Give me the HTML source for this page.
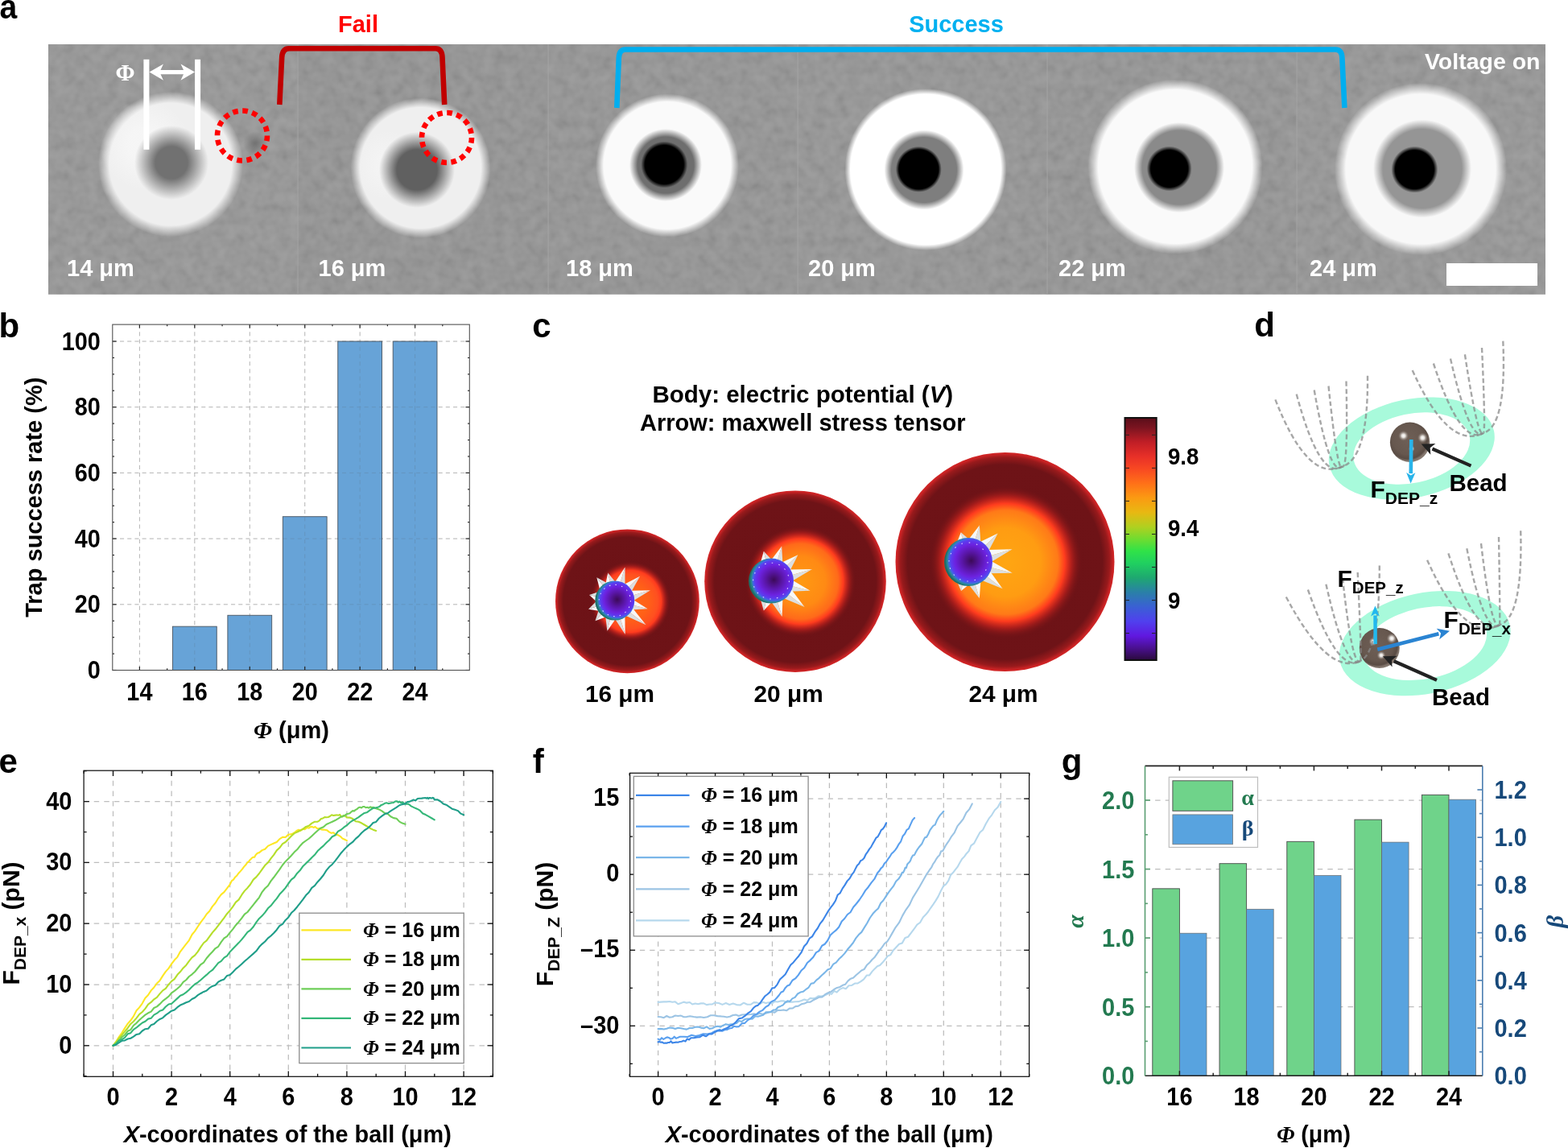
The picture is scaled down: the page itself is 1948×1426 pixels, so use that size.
<!DOCTYPE html>
<html><head><meta charset="utf-8"><title>Figure</title><style>
html,body{margin:0;padding:0;background:#fff;overflow:hidden}
svg{display:block}
</style></head><body>
<svg width="1948" height="1426" viewBox="0 0 1948 1426">
<defs>
<filter id="nz" x="60" y="55" width="1860" height="310.5" filterUnits="userSpaceOnUse"><feTurbulence type="fractalNoise" baseFrequency="0.075" numOctaves="2" seed="7"/><feColorMatrix type="matrix" values="1 0 0 0 0  1 0 0 0 0  1 0 0 0 0  0 0 0 0 0.14"/></filter>
<radialGradient id="rg1" gradientUnits="userSpaceOnUse" cx="212" cy="204" r="90"><stop offset="0" stop-color="#efefef" stop-opacity="1.0"/><stop offset="0.8444" stop-color="#efefef" stop-opacity="1.0"/><stop offset="0.9222" stop-color="#efefef" stop-opacity="0.5"/><stop offset="1" stop-color="#efefef" stop-opacity="0"/></radialGradient>
<radialGradient id="rg2" gradientUnits="userSpaceOnUse" cx="180" cy="180" r="56"><stop offset="0" stop-color="#fafafa" stop-opacity="0.6"/><stop offset="0.3571" stop-color="#fafafa" stop-opacity="0.6"/><stop offset="0.6786" stop-color="#fafafa" stop-opacity="0.3"/><stop offset="1" stop-color="#fafafa" stop-opacity="0"/></radialGradient>
<radialGradient id="rg3" gradientUnits="userSpaceOnUse" cx="213" cy="202" r="46"><stop offset="0" stop-color="#717171" stop-opacity="1.0"/><stop offset="0.4348" stop-color="#717171" stop-opacity="1.0"/><stop offset="0.7174" stop-color="#717171" stop-opacity="0.5"/><stop offset="1" stop-color="#717171" stop-opacity="0"/></radialGradient>
<radialGradient id="rg4" gradientUnits="userSpaceOnUse" cx="522.5" cy="208.5" r="87"><stop offset="0" stop-color="#efefef" stop-opacity="1.0"/><stop offset="0.8621" stop-color="#efefef" stop-opacity="1.0"/><stop offset="0.9310" stop-color="#efefef" stop-opacity="0.5"/><stop offset="1" stop-color="#efefef" stop-opacity="0"/></radialGradient>
<radialGradient id="rg5" gradientUnits="userSpaceOnUse" cx="482" cy="205" r="43"><stop offset="0" stop-color="#f8f8f8" stop-opacity="0.5"/><stop offset="0.3023" stop-color="#f8f8f8" stop-opacity="0.5"/><stop offset="0.6512" stop-color="#f8f8f8" stop-opacity="0.25"/><stop offset="1" stop-color="#f8f8f8" stop-opacity="0"/></radialGradient>
<radialGradient id="rg6" gradientUnits="userSpaceOnUse" cx="518" cy="211" r="47"><stop offset="0" stop-color="#606060" stop-opacity="1.0"/><stop offset="0.5319" stop-color="#606060" stop-opacity="1.0"/><stop offset="0.7660" stop-color="#606060" stop-opacity="0.5"/><stop offset="1" stop-color="#606060" stop-opacity="0"/></radialGradient>
<radialGradient id="rg7" gradientUnits="userSpaceOnUse" cx="829" cy="205.5" r="89"><stop offset="0" stop-color="#fafafa" stop-opacity="1.0"/><stop offset="0.8876" stop-color="#fafafa" stop-opacity="1.0"/><stop offset="0.9438" stop-color="#fafafa" stop-opacity="0.5"/><stop offset="1" stop-color="#fafafa" stop-opacity="0"/></radialGradient>
<radialGradient id="rg8" gradientUnits="userSpaceOnUse" cx="827" cy="205" r="45"><stop offset="0" stop-color="#6e6e6e" stop-opacity="1.0"/><stop offset="0.7778" stop-color="#6e6e6e" stop-opacity="1.0"/><stop offset="0.8889" stop-color="#6e6e6e" stop-opacity="0.5"/><stop offset="1" stop-color="#6e6e6e" stop-opacity="0"/></radialGradient>
<radialGradient id="rg9" gradientUnits="userSpaceOnUse" cx="825.3" cy="204.5" r="29"><stop offset="0" stop-color="#000000" stop-opacity="1.0"/><stop offset="0.8276" stop-color="#000000" stop-opacity="1.0"/><stop offset="0.9138" stop-color="#000000" stop-opacity="0.5"/><stop offset="1" stop-color="#000000" stop-opacity="0"/></radialGradient>
<radialGradient id="rg10" gradientUnits="userSpaceOnUse" cx="1150" cy="210.5" r="100.5"><stop offset="0" stop-color="#ffffff" stop-opacity="1.0"/><stop offset="0.9303" stop-color="#ffffff" stop-opacity="1.0"/><stop offset="0.9652" stop-color="#ffffff" stop-opacity="0.5"/><stop offset="1" stop-color="#ffffff" stop-opacity="0"/></radialGradient>
<radialGradient id="rg11" gradientUnits="userSpaceOnUse" cx="1148" cy="211" r="49.5"><stop offset="0" stop-color="#7e7e7e" stop-opacity="1.0"/><stop offset="0.8182" stop-color="#7e7e7e" stop-opacity="1.0"/><stop offset="0.9091" stop-color="#7e7e7e" stop-opacity="0.5"/><stop offset="1" stop-color="#7e7e7e" stop-opacity="0"/></radialGradient>
<radialGradient id="rg12" gradientUnits="userSpaceOnUse" cx="1141.3" cy="210.3" r="28.5"><stop offset="0" stop-color="#000000" stop-opacity="1.0"/><stop offset="0.8596" stop-color="#000000" stop-opacity="1.0"/><stop offset="0.9298" stop-color="#000000" stop-opacity="0.5"/><stop offset="1" stop-color="#000000" stop-opacity="0"/></radialGradient>
<radialGradient id="rg13" gradientUnits="userSpaceOnUse" cx="1460" cy="207" r="108.5"><stop offset="0" stop-color="#fafafa" stop-opacity="1.0"/><stop offset="0.8802" stop-color="#fafafa" stop-opacity="1.0"/><stop offset="0.9401" stop-color="#fafafa" stop-opacity="0.5"/><stop offset="1" stop-color="#fafafa" stop-opacity="0"/></radialGradient>
<radialGradient id="rg14" gradientUnits="userSpaceOnUse" cx="1465" cy="208" r="56"><stop offset="0" stop-color="#8a8a8a" stop-opacity="1.0"/><stop offset="0.8214" stop-color="#8a8a8a" stop-opacity="1.0"/><stop offset="0.9107" stop-color="#8a8a8a" stop-opacity="0.5"/><stop offset="1" stop-color="#8a8a8a" stop-opacity="0"/></radialGradient>
<radialGradient id="rg15" gradientUnits="userSpaceOnUse" cx="1452.7" cy="209.5" r="28"><stop offset="0" stop-color="#000000" stop-opacity="1.0"/><stop offset="0.8214" stop-color="#000000" stop-opacity="1.0"/><stop offset="0.9107" stop-color="#000000" stop-opacity="0.5"/><stop offset="1" stop-color="#000000" stop-opacity="0"/></radialGradient>
<radialGradient id="rg16" gradientUnits="userSpaceOnUse" cx="1765" cy="210" r="107"><stop offset="0" stop-color="#f8f8f8" stop-opacity="1.0"/><stop offset="0.8692" stop-color="#f8f8f8" stop-opacity="1.0"/><stop offset="0.9346" stop-color="#f8f8f8" stop-opacity="0.5"/><stop offset="1" stop-color="#f8f8f8" stop-opacity="0"/></radialGradient>
<radialGradient id="rg17" gradientUnits="userSpaceOnUse" cx="1767" cy="209.5" r="61"><stop offset="0" stop-color="#959595" stop-opacity="1.0"/><stop offset="0.8033" stop-color="#959595" stop-opacity="1.0"/><stop offset="0.9016" stop-color="#959595" stop-opacity="0.5"/><stop offset="1" stop-color="#959595" stop-opacity="0"/></radialGradient>
<radialGradient id="rg18" gradientUnits="userSpaceOnUse" cx="1757.4" cy="210.6" r="29"><stop offset="0" stop-color="#000000" stop-opacity="1.0"/><stop offset="0.8276" stop-color="#000000" stop-opacity="1.0"/><stop offset="0.9138" stop-color="#000000" stop-opacity="0.5"/><stop offset="1" stop-color="#000000" stop-opacity="0"/></radialGradient>
<radialGradient id="rg19" gradientUnits="userSpaceOnUse" cx="317" cy="178" r="15"><stop offset="0" stop-color="#6a6a6a" stop-opacity="0.8"/><stop offset="0.0000" stop-color="#6a6a6a" stop-opacity="0.8"/><stop offset="0.5000" stop-color="#6a6a6a" stop-opacity="0.4"/><stop offset="1" stop-color="#6a6a6a" stop-opacity="0"/></radialGradient>
<radialGradient id="cg20" gradientUnits="userSpaceOnUse" cx="779.4" cy="746.8" r="89.4"><stop offset="0" stop-color="#6c1216"/><stop offset="0.89" stop-color="#6e1317"/><stop offset="0.955" stop-color="#981a1c"/><stop offset="0.985" stop-color="#c82224"/><stop offset="1" stop-color="#d42626"/></radialGradient>
<radialGradient id="cc21" gradientUnits="userSpaceOnUse" cx="783" cy="747" r="50.05"><stop offset="0" stop-color="#ff6a16"/><stop offset="0.45" stop-color="#ff6018"/><stop offset="0.68" stop-color="#ff5020"/><stop offset="0.77" stop-color="#ff3c1e"/><stop offset="0.86" stop-color="#b8201c" stop-opacity="0.85"/><stop offset="1" stop-color="#6e1317" stop-opacity="0"/></radialGradient>
<radialGradient id="sp22" gradientUnits="userSpaceOnUse" cx="766.74" cy="744.77" r="26.46"><stop offset="0" stop-color="#3c0a58"/><stop offset="0.35" stop-color="#5a16a8"/><stop offset="0.62" stop-color="#6c22e0"/><stop offset="0.78" stop-color="#5c3cf0"/><stop offset="0.86" stop-color="#4068e4"/><stop offset="0.92" stop-color="#2a8a9a"/><stop offset="1" stop-color="#1d6c64"/></radialGradient>
<radialGradient id="cg23" gradientUnits="userSpaceOnUse" cx="988" cy="722.2" r="112.8"><stop offset="0" stop-color="#6c1216"/><stop offset="0.89" stop-color="#6e1317"/><stop offset="0.955" stop-color="#981a1c"/><stop offset="0.985" stop-color="#c82224"/><stop offset="1" stop-color="#d42626"/></radialGradient>
<radialGradient id="cc24" gradientUnits="userSpaceOnUse" cx="994.5" cy="722.2" r="68.9"><stop offset="0" stop-color="#ff9a12"/><stop offset="0.45" stop-color="#ff8a14"/><stop offset="0.68" stop-color="#ff6a1a"/><stop offset="0.77" stop-color="#ff3c1e"/><stop offset="0.86" stop-color="#b8201c" stop-opacity="0.85"/><stop offset="1" stop-color="#6e1317" stop-opacity="0"/></radialGradient>
<radialGradient id="sp25" gradientUnits="userSpaceOnUse" cx="961.36" cy="720.2" r="30.24"><stop offset="0" stop-color="#3c0a58"/><stop offset="0.35" stop-color="#5a16a8"/><stop offset="0.62" stop-color="#6c22e0"/><stop offset="0.78" stop-color="#5c3cf0"/><stop offset="0.86" stop-color="#4068e4"/><stop offset="0.92" stop-color="#2a8a9a"/><stop offset="1" stop-color="#1d6c64"/></radialGradient>
<radialGradient id="cg26" gradientUnits="userSpaceOnUse" cx="1248.5" cy="698" r="136"><stop offset="0" stop-color="#6c1216"/><stop offset="0.89" stop-color="#6e1317"/><stop offset="0.955" stop-color="#981a1c"/><stop offset="0.985" stop-color="#c82224"/><stop offset="1" stop-color="#d42626"/></radialGradient>
<radialGradient id="cc27" gradientUnits="userSpaceOnUse" cx="1249.8" cy="698.5" r="94.9"><stop offset="0" stop-color="#ffa612"/><stop offset="0.45" stop-color="#ff9c12"/><stop offset="0.68" stop-color="#ff7a18"/><stop offset="0.77" stop-color="#ff3c1e"/><stop offset="0.86" stop-color="#b8201c" stop-opacity="0.85"/><stop offset="1" stop-color="#6e1317" stop-opacity="0"/></radialGradient>
<radialGradient id="sp28" gradientUnits="userSpaceOnUse" cx="1206.6" cy="696.5" r="32.4"><stop offset="0" stop-color="#3c0a58"/><stop offset="0.35" stop-color="#5a16a8"/><stop offset="0.62" stop-color="#6c22e0"/><stop offset="0.78" stop-color="#5c3cf0"/><stop offset="0.86" stop-color="#4068e4"/><stop offset="0.92" stop-color="#2a8a9a"/><stop offset="1" stop-color="#1d6c64"/></radialGradient>
<linearGradient id="cb29" x1="0" y1="0" x2="0" y2="1"><stop offset="0" stop-color="#5a0e1a"/><stop offset="0.04" stop-color="#7a1420"/><stop offset="0.1" stop-color="#c01e26"/><stop offset="0.16" stop-color="#e83028"/><stop offset="0.21" stop-color="#f84822"/><stop offset="0.27" stop-color="#ff7018"/><stop offset="0.33" stop-color="#fb9a12"/><stop offset="0.39" stop-color="#e8b812"/><stop offset="0.45" stop-color="#b0d020"/><stop offset="0.5" stop-color="#70dc30"/><stop offset="0.55" stop-color="#30e248"/><stop offset="0.6" stop-color="#20d060"/><stop offset="0.66" stop-color="#1ea870"/><stop offset="0.72" stop-color="#2a80a8"/><stop offset="0.78" stop-color="#3a60d4"/><stop offset="0.84" stop-color="#5040ee"/><stop offset="0.9" stop-color="#6018e0"/><stop offset="0.95" stop-color="#4a1090"/><stop offset="1" stop-color="#2a0a3c"/></linearGradient>
<radialGradient id="bd30" gradientUnits="userSpaceOnUse" cx="1749.13" cy="545.5" r="27.17"><stop offset="0" stop-color="#6e5f56"/><stop offset="0.7" stop-color="#67584f"/><stop offset="0.9" stop-color="#5a4c44"/><stop offset="1" stop-color="#85786f"/></radialGradient>
<radialGradient id="hl31" gradientUnits="userSpaceOnUse" cx="1743.6" cy="541.3" r="6.5"><stop offset="0" stop-color="#ffffff"/><stop offset="0.35" stop-color="#f0ece8" stop-opacity="0.9"/><stop offset="1" stop-color="#8a7d75" stop-opacity="0"/></radialGradient>
<radialGradient id="hl32" gradientUnits="userSpaceOnUse" cx="1767.4" cy="543.8" r="6.5"><stop offset="0" stop-color="#ffffff"/><stop offset="0.35" stop-color="#f0ece8" stop-opacity="0.9"/><stop offset="1" stop-color="#8a7d75" stop-opacity="0"/></radialGradient>
<radialGradient id="hl33" gradientUnits="userSpaceOnUse" cx="1753.8" cy="557.4" r="4"><stop offset="0" stop-color="#ffffff"/><stop offset="0.35" stop-color="#f0ece8" stop-opacity="0.9"/><stop offset="1" stop-color="#8a7d75" stop-opacity="0"/></radialGradient>
<radialGradient id="bd34" gradientUnits="userSpaceOnUse" cx="1711.3" cy="801.25" r="27.5"><stop offset="0" stop-color="#6e5f56"/><stop offset="0.7" stop-color="#67584f"/><stop offset="0.9" stop-color="#5a4c44"/><stop offset="1" stop-color="#85786f"/></radialGradient>
<radialGradient id="hl35" gradientUnits="userSpaceOnUse" cx="1706" cy="797" r="5.5"><stop offset="0" stop-color="#ffffff"/><stop offset="0.35" stop-color="#f0ece8" stop-opacity="0.9"/><stop offset="1" stop-color="#8a7d75" stop-opacity="0"/></radialGradient>
<radialGradient id="hl36" gradientUnits="userSpaceOnUse" cx="1729" cy="793" r="6.5"><stop offset="0" stop-color="#ffffff"/><stop offset="0.35" stop-color="#f0ece8" stop-opacity="0.9"/><stop offset="1" stop-color="#8a7d75" stop-opacity="0"/></radialGradient>
<radialGradient id="hl37" gradientUnits="userSpaceOnUse" cx="1716" cy="814" r="5.5"><stop offset="0" stop-color="#ffffff"/><stop offset="0.35" stop-color="#f0ece8" stop-opacity="0.9"/><stop offset="1" stop-color="#8a7d75" stop-opacity="0"/></radialGradient>
</defs>
<rect width="1948" height="1426" fill="#fff"/>
<rect x="60" y="55" width="1860" height="310.5" fill="#919191"/>
<rect x="60" y="55" width="310" height="310.5" fill="#939393"/>
<rect x="370" y="55" width="311" height="310.5" fill="#909090"/>
<rect x="681" y="55" width="310" height="310.5" fill="#919191"/>
<rect x="991" y="55" width="310" height="310.5" fill="#929292"/>
<rect x="1301" y="55" width="310" height="310.5" fill="#919191"/>
<rect x="1611" y="55" width="309" height="310.5" fill="#939393"/>
<rect x="60" y="55" width="1860" height="310.5" filter="url(#nz)"/>
<rect x="369.5" y="55" width="1.2" height="310.5" fill="#a4a4a4" opacity="0.8"/>
<rect x="680.5" y="55" width="1.2" height="310.5" fill="#a4a4a4" opacity="0.8"/>
<rect x="990.5" y="55" width="1.2" height="310.5" fill="#a4a4a4" opacity="0.8"/>
<rect x="1300.5" y="55" width="1.2" height="310.5" fill="#a4a4a4" opacity="0.8"/>
<rect x="1610.5" y="55" width="1.2" height="310.5" fill="#a4a4a4" opacity="0.8"/>
<circle cx="212" cy="204" r="90" fill="url(#rg1)"/>
<circle cx="180" cy="180" r="56" fill="url(#rg2)"/>
<circle cx="213" cy="202" r="46" fill="url(#rg3)"/>
<circle cx="522.5" cy="208.5" r="87" fill="url(#rg4)"/>
<circle cx="482" cy="205" r="43" fill="url(#rg5)"/>
<circle cx="518" cy="211" r="47" fill="url(#rg6)"/>
<circle cx="829" cy="205.5" r="89" fill="url(#rg7)"/>
<circle cx="827" cy="205" r="45" fill="url(#rg8)"/>
<circle cx="825.3" cy="204.5" r="29" fill="url(#rg9)"/>
<circle cx="1150" cy="210.5" r="100.5" fill="url(#rg10)"/>
<circle cx="1148" cy="211" r="49.5" fill="url(#rg11)"/>
<circle cx="1141.3" cy="210.3" r="28.5" fill="url(#rg12)"/>
<circle cx="1460" cy="207" r="108.5" fill="url(#rg13)"/>
<circle cx="1465" cy="208" r="56" fill="url(#rg14)"/>
<circle cx="1452.7" cy="209.5" r="28" fill="url(#rg15)"/>
<circle cx="1765" cy="210" r="107" fill="url(#rg16)"/>
<circle cx="1767" cy="209.5" r="61" fill="url(#rg17)"/>
<circle cx="1757.4" cy="210.6" r="29" fill="url(#rg18)"/>
<circle cx="317" cy="178" r="15" fill="url(#rg19)"/>
<rect x="178.4" y="73.8" width="7" height="112" fill="#fff"/>
<rect x="242.1" y="73.8" width="7" height="112" fill="#fff"/>
<path d="M185.5 89.6 L203 79.4 L199.5 87 L228 87 L224.5 79.4 L242 89.6 L224.5 99.8 L228 92.2 L199.5 92.2 L203 99.8 Z" fill="#fff"/>
<text transform="translate(155.4 99.5)" font-size="29" text-anchor="middle" fill="#fff" font-weight="bold" font-family='"Liberation Serif", "Times New Roman", serif' font-style="normal" >Φ</text>
<circle cx="301" cy="168.5" r="31" fill="none" stroke="#ff0000" stroke-width="6.6" stroke-dasharray="6.696 5.478"/>
<circle cx="555" cy="171" r="31" fill="none" stroke="#ff0000" stroke-width="6.6" stroke-dasharray="6.696 5.478"/>
<path d="M347.3 130 L350.2 71 Q351 60.3 359 60.3 L541 60.3 Q549 60.3 549.5 71 L552.2 130" fill="none" stroke="#c00000" stroke-width="6.6"/>
<path d="M766.3 134 L768.8 72 Q769.3 61.5 777 61.5 L1659 61.5 Q1667 61.5 1667.4 72 L1670.4 134" fill="none" stroke="#00aeef" stroke-width="6.6"/>
<text transform="translate(445 40.2)" font-size="29" text-anchor="middle" fill="#ff0000" font-weight="bold" font-family='"Liberation Sans", Arial, sans-serif' font-style="normal" >Fail</text>
<text transform="translate(1188 40.2)" font-size="29" text-anchor="middle" fill="#00b0f0" font-weight="bold" font-family='"Liberation Sans", Arial, sans-serif' font-style="normal" >Success</text>
<text transform="translate(1913.5 86.2)" font-size="28.5" text-anchor="end" fill="#fff" font-weight="bold" font-family='"Liberation Sans", Arial, sans-serif' font-style="normal" >Voltage on</text>
<text transform="translate(83 343.1)" font-size="29" text-anchor="start" fill="#fff" font-weight="bold" font-family='"Liberation Sans", Arial, sans-serif' font-style="normal" >14 μm</text>
<text transform="translate(395.5 343.1)" font-size="29" text-anchor="start" fill="#fff" font-weight="bold" font-family='"Liberation Sans", Arial, sans-serif' font-style="normal" >16 μm</text>
<text transform="translate(703 343.1)" font-size="29" text-anchor="start" fill="#fff" font-weight="bold" font-family='"Liberation Sans", Arial, sans-serif' font-style="normal" >18 μm</text>
<text transform="translate(1004 343.1)" font-size="29" text-anchor="start" fill="#fff" font-weight="bold" font-family='"Liberation Sans", Arial, sans-serif' font-style="normal" >20 μm</text>
<text transform="translate(1315 343.1)" font-size="29" text-anchor="start" fill="#fff" font-weight="bold" font-family='"Liberation Sans", Arial, sans-serif' font-style="normal" >22 μm</text>
<text transform="translate(1627 343.1)" font-size="29" text-anchor="start" fill="#fff" font-weight="bold" font-family='"Liberation Sans", Arial, sans-serif' font-style="normal" >24 μm</text>
<rect x="1797" y="327" width="113" height="28" fill="#fff"/>
<rect x="139.8" y="403.1" width="443.49999999999994" height="429.4" fill="#fff"/>
<line x1="173.4" y1="403.1" x2="173.4" y2="832.5" stroke="#cdcdcd" stroke-width="1.0" stroke-dasharray="5.1 4.1"/>
<line x1="241.84" y1="403.1" x2="241.84" y2="832.5" stroke="#cdcdcd" stroke-width="1.0" stroke-dasharray="5.1 4.1"/>
<line x1="310.28" y1="403.1" x2="310.28" y2="832.5" stroke="#cdcdcd" stroke-width="1.0" stroke-dasharray="5.1 4.1"/>
<line x1="378.72" y1="403.1" x2="378.72" y2="832.5" stroke="#cdcdcd" stroke-width="1.0" stroke-dasharray="5.1 4.1"/>
<line x1="447.16" y1="403.1" x2="447.16" y2="832.5" stroke="#cdcdcd" stroke-width="1.0" stroke-dasharray="5.1 4.1"/>
<line x1="515.6" y1="403.1" x2="515.6" y2="832.5" stroke="#cdcdcd" stroke-width="1.0" stroke-dasharray="5.1 4.1"/>
<line x1="139.8" y1="750.8" x2="583.3" y2="750.8" stroke="#cdcdcd" stroke-width="1.0" stroke-dasharray="5.1 4.1"/>
<line x1="139.8" y1="669.1" x2="583.3" y2="669.1" stroke="#cdcdcd" stroke-width="1.0" stroke-dasharray="5.1 4.1"/>
<line x1="139.8" y1="587.4" x2="583.3" y2="587.4" stroke="#cdcdcd" stroke-width="1.0" stroke-dasharray="5.1 4.1"/>
<line x1="139.8" y1="505.7" x2="583.3" y2="505.7" stroke="#cdcdcd" stroke-width="1.0" stroke-dasharray="5.1 4.1"/>
<line x1="139.8" y1="424" x2="583.3" y2="424" stroke="#cdcdcd" stroke-width="1.0" stroke-dasharray="5.1 4.1"/>
<rect x="214.44" y="778.17" width="54.8" height="54.33" fill="#67a3d7" stroke="#4a5560" stroke-width="0.9"/>
<rect x="282.88" y="764.28" width="54.8" height="68.22" fill="#67a3d7" stroke="#4a5560" stroke-width="0.9"/>
<rect x="351.32" y="641.73" width="54.8" height="190.77" fill="#67a3d7" stroke="#4a5560" stroke-width="0.9"/>
<rect x="419.76" y="424" width="54.8" height="408.5" fill="#67a3d7" stroke="#4a5560" stroke-width="0.9"/>
<rect x="488.2" y="424" width="54.8" height="408.5" fill="#67a3d7" stroke="#4a5560" stroke-width="0.9"/>
<g opacity="0.18">
<line x1="173.4" y1="403.1" x2="173.4" y2="832.5" stroke="#555" stroke-width="1.0" stroke-dasharray="5.1 4.1"/>
<line x1="241.84" y1="403.1" x2="241.84" y2="832.5" stroke="#555" stroke-width="1.0" stroke-dasharray="5.1 4.1"/>
<line x1="310.28" y1="403.1" x2="310.28" y2="832.5" stroke="#555" stroke-width="1.0" stroke-dasharray="5.1 4.1"/>
<line x1="378.72" y1="403.1" x2="378.72" y2="832.5" stroke="#555" stroke-width="1.0" stroke-dasharray="5.1 4.1"/>
<line x1="447.16" y1="403.1" x2="447.16" y2="832.5" stroke="#555" stroke-width="1.0" stroke-dasharray="5.1 4.1"/>
<line x1="515.6" y1="403.1" x2="515.6" y2="832.5" stroke="#555" stroke-width="1.0" stroke-dasharray="5.1 4.1"/>
<line x1="139.8" y1="750.8" x2="583.3" y2="750.8" stroke="#555" stroke-width="1.0" stroke-dasharray="5.1 4.1"/>
<line x1="139.8" y1="669.1" x2="583.3" y2="669.1" stroke="#555" stroke-width="1.0" stroke-dasharray="5.1 4.1"/>
<line x1="139.8" y1="587.4" x2="583.3" y2="587.4" stroke="#555" stroke-width="1.0" stroke-dasharray="5.1 4.1"/>
<line x1="139.8" y1="505.7" x2="583.3" y2="505.7" stroke="#555" stroke-width="1.0" stroke-dasharray="5.1 4.1"/>
<line x1="139.8" y1="424" x2="583.3" y2="424" stroke="#555" stroke-width="1.0" stroke-dasharray="5.1 4.1"/>
</g>
<line x1="173.4" y1="832.5" x2="173.4" y2="828" stroke="#222" stroke-width="1.2"/>
<line x1="173.4" y1="403.1" x2="173.4" y2="407.6" stroke="#222" stroke-width="1.2"/>
<line x1="241.84" y1="832.5" x2="241.84" y2="828" stroke="#222" stroke-width="1.2"/>
<line x1="241.84" y1="403.1" x2="241.84" y2="407.6" stroke="#222" stroke-width="1.2"/>
<line x1="310.28" y1="832.5" x2="310.28" y2="828" stroke="#222" stroke-width="1.2"/>
<line x1="310.28" y1="403.1" x2="310.28" y2="407.6" stroke="#222" stroke-width="1.2"/>
<line x1="378.72" y1="832.5" x2="378.72" y2="828" stroke="#222" stroke-width="1.2"/>
<line x1="378.72" y1="403.1" x2="378.72" y2="407.6" stroke="#222" stroke-width="1.2"/>
<line x1="447.16" y1="832.5" x2="447.16" y2="828" stroke="#222" stroke-width="1.2"/>
<line x1="447.16" y1="403.1" x2="447.16" y2="407.6" stroke="#222" stroke-width="1.2"/>
<line x1="515.6" y1="832.5" x2="515.6" y2="828" stroke="#222" stroke-width="1.2"/>
<line x1="515.6" y1="403.1" x2="515.6" y2="407.6" stroke="#222" stroke-width="1.2"/>
<line x1="207.62" y1="832.5" x2="207.62" y2="830.3" stroke="#222" stroke-width="1.2"/>
<line x1="207.62" y1="403.1" x2="207.62" y2="405.3" stroke="#222" stroke-width="1.2"/>
<line x1="276.06" y1="832.5" x2="276.06" y2="830.3" stroke="#222" stroke-width="1.2"/>
<line x1="276.06" y1="403.1" x2="276.06" y2="405.3" stroke="#222" stroke-width="1.2"/>
<line x1="344.5" y1="832.5" x2="344.5" y2="830.3" stroke="#222" stroke-width="1.2"/>
<line x1="344.5" y1="403.1" x2="344.5" y2="405.3" stroke="#222" stroke-width="1.2"/>
<line x1="412.94" y1="832.5" x2="412.94" y2="830.3" stroke="#222" stroke-width="1.2"/>
<line x1="412.94" y1="403.1" x2="412.94" y2="405.3" stroke="#222" stroke-width="1.2"/>
<line x1="481.38" y1="832.5" x2="481.38" y2="830.3" stroke="#222" stroke-width="1.2"/>
<line x1="481.38" y1="403.1" x2="481.38" y2="405.3" stroke="#222" stroke-width="1.2"/>
<line x1="549.82" y1="832.5" x2="549.82" y2="830.3" stroke="#222" stroke-width="1.2"/>
<line x1="549.82" y1="403.1" x2="549.82" y2="405.3" stroke="#222" stroke-width="1.2"/>
<line x1="139.8" y1="832.5" x2="144.6" y2="832.5" stroke="#222" stroke-width="1.2"/>
<line x1="583.3" y1="832.5" x2="578.5" y2="832.5" stroke="#222" stroke-width="1.2"/>
<line x1="139.8" y1="750.8" x2="144.6" y2="750.8" stroke="#222" stroke-width="1.2"/>
<line x1="583.3" y1="750.8" x2="578.5" y2="750.8" stroke="#222" stroke-width="1.2"/>
<line x1="139.8" y1="669.1" x2="144.6" y2="669.1" stroke="#222" stroke-width="1.2"/>
<line x1="583.3" y1="669.1" x2="578.5" y2="669.1" stroke="#222" stroke-width="1.2"/>
<line x1="139.8" y1="587.4" x2="144.6" y2="587.4" stroke="#222" stroke-width="1.2"/>
<line x1="583.3" y1="587.4" x2="578.5" y2="587.4" stroke="#222" stroke-width="1.2"/>
<line x1="139.8" y1="505.7" x2="144.6" y2="505.7" stroke="#222" stroke-width="1.2"/>
<line x1="583.3" y1="505.7" x2="578.5" y2="505.7" stroke="#222" stroke-width="1.2"/>
<line x1="139.8" y1="424" x2="144.6" y2="424" stroke="#222" stroke-width="1.2"/>
<line x1="583.3" y1="424" x2="578.5" y2="424" stroke="#222" stroke-width="1.2"/>
<line x1="139.8" y1="812.08" x2="142" y2="812.08" stroke="#222" stroke-width="1.2"/>
<line x1="583.3" y1="812.08" x2="581.1" y2="812.08" stroke="#222" stroke-width="1.2"/>
<line x1="139.8" y1="791.65" x2="142" y2="791.65" stroke="#222" stroke-width="1.2"/>
<line x1="583.3" y1="791.65" x2="581.1" y2="791.65" stroke="#222" stroke-width="1.2"/>
<line x1="139.8" y1="771.23" x2="142" y2="771.23" stroke="#222" stroke-width="1.2"/>
<line x1="583.3" y1="771.23" x2="581.1" y2="771.23" stroke="#222" stroke-width="1.2"/>
<line x1="139.8" y1="730.38" x2="142" y2="730.38" stroke="#222" stroke-width="1.2"/>
<line x1="583.3" y1="730.38" x2="581.1" y2="730.38" stroke="#222" stroke-width="1.2"/>
<line x1="139.8" y1="709.95" x2="142" y2="709.95" stroke="#222" stroke-width="1.2"/>
<line x1="583.3" y1="709.95" x2="581.1" y2="709.95" stroke="#222" stroke-width="1.2"/>
<line x1="139.8" y1="689.52" x2="142" y2="689.52" stroke="#222" stroke-width="1.2"/>
<line x1="583.3" y1="689.52" x2="581.1" y2="689.52" stroke="#222" stroke-width="1.2"/>
<line x1="139.8" y1="648.67" x2="142" y2="648.67" stroke="#222" stroke-width="1.2"/>
<line x1="583.3" y1="648.67" x2="581.1" y2="648.67" stroke="#222" stroke-width="1.2"/>
<line x1="139.8" y1="628.25" x2="142" y2="628.25" stroke="#222" stroke-width="1.2"/>
<line x1="583.3" y1="628.25" x2="581.1" y2="628.25" stroke="#222" stroke-width="1.2"/>
<line x1="139.8" y1="607.83" x2="142" y2="607.83" stroke="#222" stroke-width="1.2"/>
<line x1="583.3" y1="607.83" x2="581.1" y2="607.83" stroke="#222" stroke-width="1.2"/>
<line x1="139.8" y1="566.98" x2="142" y2="566.98" stroke="#222" stroke-width="1.2"/>
<line x1="583.3" y1="566.98" x2="581.1" y2="566.98" stroke="#222" stroke-width="1.2"/>
<line x1="139.8" y1="546.55" x2="142" y2="546.55" stroke="#222" stroke-width="1.2"/>
<line x1="583.3" y1="546.55" x2="581.1" y2="546.55" stroke="#222" stroke-width="1.2"/>
<line x1="139.8" y1="526.12" x2="142" y2="526.12" stroke="#222" stroke-width="1.2"/>
<line x1="583.3" y1="526.12" x2="581.1" y2="526.12" stroke="#222" stroke-width="1.2"/>
<line x1="139.8" y1="485.27" x2="142" y2="485.27" stroke="#222" stroke-width="1.2"/>
<line x1="583.3" y1="485.27" x2="581.1" y2="485.27" stroke="#222" stroke-width="1.2"/>
<line x1="139.8" y1="464.85" x2="142" y2="464.85" stroke="#222" stroke-width="1.2"/>
<line x1="583.3" y1="464.85" x2="581.1" y2="464.85" stroke="#222" stroke-width="1.2"/>
<line x1="139.8" y1="444.43" x2="142" y2="444.43" stroke="#222" stroke-width="1.2"/>
<line x1="583.3" y1="444.43" x2="581.1" y2="444.43" stroke="#222" stroke-width="1.2"/>
<rect x="139.8" y="403.1" width="443.5" height="429.4" fill="none" stroke="#505050" stroke-width="1.1"/>
<text transform="translate(124.8 843.1) scale(0.93 1)" font-size="31" text-anchor="end" fill="#000" font-weight="bold" font-family='"Liberation Sans", Arial, sans-serif' font-style="normal" >0</text>
<text transform="translate(124.8 761.4) scale(0.93 1)" font-size="31" text-anchor="end" fill="#000" font-weight="bold" font-family='"Liberation Sans", Arial, sans-serif' font-style="normal" >20</text>
<text transform="translate(124.8 679.7) scale(0.93 1)" font-size="31" text-anchor="end" fill="#000" font-weight="bold" font-family='"Liberation Sans", Arial, sans-serif' font-style="normal" >40</text>
<text transform="translate(124.8 598) scale(0.93 1)" font-size="31" text-anchor="end" fill="#000" font-weight="bold" font-family='"Liberation Sans", Arial, sans-serif' font-style="normal" >60</text>
<text transform="translate(124.8 516.3) scale(0.93 1)" font-size="31" text-anchor="end" fill="#000" font-weight="bold" font-family='"Liberation Sans", Arial, sans-serif' font-style="normal" >80</text>
<text transform="translate(124.8 434.6) scale(0.93 1)" font-size="31" text-anchor="end" fill="#000" font-weight="bold" font-family='"Liberation Sans", Arial, sans-serif' font-style="normal" >100</text>
<text transform="translate(173.4 869.5) scale(0.93 1)" font-size="31" text-anchor="middle" fill="#000" font-weight="bold" font-family='"Liberation Sans", Arial, sans-serif' font-style="normal" >14</text>
<text transform="translate(241.84 869.5) scale(0.93 1)" font-size="31" text-anchor="middle" fill="#000" font-weight="bold" font-family='"Liberation Sans", Arial, sans-serif' font-style="normal" >16</text>
<text transform="translate(310.28 869.5) scale(0.93 1)" font-size="31" text-anchor="middle" fill="#000" font-weight="bold" font-family='"Liberation Sans", Arial, sans-serif' font-style="normal" >18</text>
<text transform="translate(378.72 869.5) scale(0.93 1)" font-size="31" text-anchor="middle" fill="#000" font-weight="bold" font-family='"Liberation Sans", Arial, sans-serif' font-style="normal" >20</text>
<text transform="translate(447.16 869.5) scale(0.93 1)" font-size="31" text-anchor="middle" fill="#000" font-weight="bold" font-family='"Liberation Sans", Arial, sans-serif' font-style="normal" >22</text>
<text transform="translate(515.6 869.5) scale(0.93 1)" font-size="31" text-anchor="middle" fill="#000" font-weight="bold" font-family='"Liberation Sans", Arial, sans-serif' font-style="normal" >24</text>
<text x="362" y="916.5" font-size="29" text-anchor="middle" font-weight="bold" font-family='"Liberation Sans", Arial, sans-serif'><tspan font-family='"Liberation Serif", "Times New Roman", serif' font-style="italic">Φ</tspan> (μm)</text>
<text transform="translate(51.5 617.7) rotate(-90)" font-size="29" text-anchor="middle" font-weight="bold" font-family='"Liberation Sans", Arial, sans-serif'>Trap success rate (%)</text>
<text x="997.3" y="500.2" font-size="29.5" text-anchor="middle" font-weight="bold" font-family='"Liberation Sans", Arial, sans-serif'>Body: electric potential (<tspan font-style="italic">V</tspan>)</text>
<text x="997.3" y="534.5" font-size="29" text-anchor="middle" font-weight="bold" font-family='"Liberation Sans", Arial, sans-serif'>Arrow: maxwell stress tensor</text>
<circle cx="779.4" cy="746.8" r="89.4" fill="url(#cg20)"/>
<circle cx="783" cy="747" r="50.05" fill="url(#cc21)"/>
<path d="M741.33 747.81 L732.06 739.02 L744.66 741.79 Z" fill="#f7f8f8"/>
<path d="M744.16 734.94 L732.06 739.02 L744.66 741.79 Z" fill="#dcdfe0"/>
<path d="M745.34 733.07 L741.33 717.24 L751.73 730.55 Z" fill="#f7f8f8"/>
<path d="M755.72 724.96 L741.33 717.24 L751.73 730.55 Z" fill="#dcdfe0"/>
<path d="M752.19 726.68 L755.21 711.55 L759.06 726.98 Z" fill="#f7f8f8"/>
<path d="M764.98 723.49 L755.21 711.55 L759.06 726.98 Z" fill="#dcdfe0"/>
<path d="M763.8 723.46 L776.52 704.4 L769.53 727.26 Z" fill="#f7f8f8"/>
<path d="M776.4 727.31 L776.52 704.4 L769.53 727.26 Z" fill="#dcdfe0"/>
<path d="M774.73 726.29 L795.09 715.78 L777.9 732.38 Z" fill="#f7f8f8"/>
<path d="M783.88 735.77 L795.09 715.78 L777.9 732.38 Z" fill="#dcdfe0"/>
<path d="M782.7 733.72 L808.02 733.32 L782.64 740.6 Z" fill="#f7f8f8"/>
<path d="M786.34 746.39 L808.02 733.32 L782.64 740.6 Z" fill="#dcdfe0"/>
<path d="M786.31 744.82 L804.55 756.16 L782.82 750.74 Z" fill="#f7f8f8"/>
<path d="M783.12 757.61 L804.55 756.16 L782.82 750.74 Z" fill="#dcdfe0"/>
<path d="M784.84 754.08 L802.57 776.29 L779.25 758.07 Z" fill="#f7f8f8"/>
<path d="M776.73 764.46 L802.57 776.29 L779.25 758.07 Z" fill="#dcdfe0"/>
<path d="M776.4 764.69 L776.66 788.08 L769.53 764.74 Z" fill="#f7f8f8"/>
<path d="M763.8 768.54 L776.66 788.08 L769.53 764.74 Z" fill="#dcdfe0"/>
<path d="M764.98 768.51 L754.41 783.65 L759.06 765.02 Z" fill="#f7f8f8"/>
<path d="M752.19 765.32 L754.41 783.65 L759.06 765.02 Z" fill="#dcdfe0"/>
<path d="M753.57 766.08 L739.49 771.18 L750.18 760.1 Z" fill="#f7f8f8"/>
<path d="M744.09 756.93 L739.49 771.18 L750.18 760.1 Z" fill="#dcdfe0"/>
<path d="M745.34 758.93 L730.99 756.66 L745.16 752.06 Z" fill="#f7f8f8"/>
<path d="M741.26 746.39 L730.99 756.66 L745.16 752.06 Z" fill="#dcdfe0"/>
<circle cx="763.8" cy="746" r="24.5" fill="url(#sp22)"/>
<circle cx="763.8" cy="746" r="19.6" fill="none" stroke="#e8e0ff" stroke-width="1.1" stroke-dasharray="1.6 6.1" opacity="0.9"/>
<circle cx="988" cy="722.2" r="112.8" fill="url(#cg23)"/>
<circle cx="994.5" cy="722.2" r="68.9" fill="url(#cc24)"/>
<path d="M944.73 699.52 L948.81 684.73 L952.58 699.87 Z" fill="#f7f8f8"/>
<path d="M959.35 695.88 L948.81 684.73 L952.58 699.87 Z" fill="#dcdfe0"/>
<path d="M958 695.84 L971.16 678.57 L964.55 700.18 Z" fill="#f7f8f8"/>
<path d="M972.4 700.24 L971.16 678.57 L964.55 700.18 Z" fill="#dcdfe0"/>
<path d="M970.49 699.07 L991.38 689.37 L974.11 706.04 Z" fill="#f7f8f8"/>
<path d="M980.95 709.91 L991.38 689.37 L974.11 706.04 Z" fill="#dcdfe0"/>
<path d="M979.6 707.57 L1008.95 706.99 L979.53 715.43 Z" fill="#f7f8f8"/>
<path d="M983.76 722.05 L1008.95 706.99 L979.53 715.43 Z" fill="#dcdfe0"/>
<path d="M983.72 720.25 L1006.51 733.7 L979.73 727.02 Z" fill="#f7f8f8"/>
<path d="M980.08 734.87 L1006.51 733.7 L979.73 727.02 Z" fill="#dcdfe0"/>
<path d="M982.05 730.83 L999.53 754.05 L975.65 735.39 Z" fill="#f7f8f8"/>
<path d="M972.78 742.7 L999.53 754.05 L975.65 735.39 Z" fill="#dcdfe0"/>
<path d="M972.4 742.96 L971.54 765.88 L964.55 743.02 Z" fill="#f7f8f8"/>
<path d="M958 747.36 L971.54 765.88 L964.55 743.02 Z" fill="#dcdfe0"/>
<path d="M959.35 747.32 L948.81 758.47 L952.58 743.33 Z" fill="#f7f8f8"/>
<path d="M944.73 743.68 L948.81 758.47 L952.58 743.33 Z" fill="#dcdfe0"/>
<circle cx="958" cy="721.6" r="28" fill="url(#sp25)"/>
<circle cx="958" cy="721.6" r="22.4" fill="none" stroke="#e8e0ff" stroke-width="1.1" stroke-dasharray="1.6 7.2" opacity="0.9"/>
<circle cx="1248.5" cy="698" r="136" fill="url(#cg26)"/>
<circle cx="1249.8" cy="698.5" r="94.9" fill="url(#cc27)"/>
<path d="M1188.78 674.34 L1193.81 661.13 L1197.19 674.71 Z" fill="#f7f8f8"/>
<path d="M1204.44 670.44 L1193.81 661.13 L1197.19 674.71 Z" fill="#dcdfe0"/>
<path d="M1203 670.4 L1216.89 652.58 L1210.02 675.05 Z" fill="#f7f8f8"/>
<path d="M1218.43 675.12 L1216.89 652.58 L1210.02 675.05 Z" fill="#dcdfe0"/>
<path d="M1216.38 673.86 L1239.69 662.57 L1220.26 681.33 Z" fill="#f7f8f8"/>
<path d="M1227.59 685.47 L1239.69 662.57 L1220.26 681.33 Z" fill="#dcdfe0"/>
<path d="M1226.15 682.97 L1257.6 682.34 L1226.07 691.38 Z" fill="#f7f8f8"/>
<path d="M1230.6 698.48 L1257.6 682.34 L1226.07 691.38 Z" fill="#dcdfe0"/>
<path d="M1230.56 696.56 L1257.72 711.64 L1226.29 703.81 Z" fill="#f7f8f8"/>
<path d="M1226.66 712.22 L1257.72 711.64 L1226.29 703.81 Z" fill="#dcdfe0"/>
<path d="M1228.77 707.89 L1245.55 731.25 L1221.91 712.78 Z" fill="#f7f8f8"/>
<path d="M1218.83 720.61 L1245.55 731.25 L1221.91 712.78 Z" fill="#dcdfe0"/>
<path d="M1218.43 720.88 L1216.8 743.14 L1210.02 720.95 Z" fill="#f7f8f8"/>
<path d="M1203 725.6 L1216.8 743.14 L1210.02 720.95 Z" fill="#dcdfe0"/>
<path d="M1204.44 725.56 L1194.05 733.9 L1197.19 721.29 Z" fill="#f7f8f8"/>
<path d="M1188.78 721.66 L1194.05 733.9 L1197.19 721.29 Z" fill="#dcdfe0"/>
<circle cx="1203" cy="698" r="30" fill="url(#sp28)"/>
<circle cx="1203" cy="698" r="24" fill="none" stroke="#e8e0ff" stroke-width="1.1" stroke-dasharray="1.6 7.82" opacity="0.9"/>
<text transform="translate(770 872.1)" font-size="29.8" text-anchor="middle" fill="#000" font-weight="bold" font-family='"Liberation Sans", Arial, sans-serif' font-style="normal" >16 μm</text>
<text transform="translate(979.6 872.1)" font-size="29.8" text-anchor="middle" fill="#000" font-weight="bold" font-family='"Liberation Sans", Arial, sans-serif' font-style="normal" >20 μm</text>
<text transform="translate(1246.5 872.1)" font-size="29.8" text-anchor="middle" fill="#000" font-weight="bold" font-family='"Liberation Sans", Arial, sans-serif' font-style="normal" >24 μm</text>
<rect x="1397.5" y="519" width="39.2" height="301" fill="url(#cb29)" stroke="#111" stroke-width="2"/>
<line x1="1398.5" y1="540.3" x2="1403" y2="540.3" stroke="#222" stroke-width="1"/>
<line x1="1431" y1="540.3" x2="1435.7" y2="540.3" stroke="#222" stroke-width="1"/>
<line x1="1398.5" y1="581.4" x2="1403" y2="581.4" stroke="#222" stroke-width="1"/>
<line x1="1431" y1="581.4" x2="1435.7" y2="581.4" stroke="#222" stroke-width="1"/>
<line x1="1398.5" y1="622.4" x2="1403" y2="622.4" stroke="#222" stroke-width="1"/>
<line x1="1431" y1="622.4" x2="1435.7" y2="622.4" stroke="#222" stroke-width="1"/>
<line x1="1398.5" y1="663.5" x2="1403" y2="663.5" stroke="#222" stroke-width="1"/>
<line x1="1431" y1="663.5" x2="1435.7" y2="663.5" stroke="#222" stroke-width="1"/>
<line x1="1398.5" y1="704.5" x2="1403" y2="704.5" stroke="#222" stroke-width="1"/>
<line x1="1431" y1="704.5" x2="1435.7" y2="704.5" stroke="#222" stroke-width="1"/>
<line x1="1398.5" y1="745.6" x2="1403" y2="745.6" stroke="#222" stroke-width="1"/>
<line x1="1431" y1="745.6" x2="1435.7" y2="745.6" stroke="#222" stroke-width="1"/>
<line x1="1398.5" y1="786.6" x2="1403" y2="786.6" stroke="#222" stroke-width="1"/>
<line x1="1431" y1="786.6" x2="1435.7" y2="786.6" stroke="#222" stroke-width="1"/>
<text transform="translate(1451 577.1) scale(0.92 1)" font-size="30" text-anchor="start" fill="#000" font-weight="bold" font-family='"Liberation Sans", Arial, sans-serif' font-style="normal" >9.8</text>
<text transform="translate(1451 666) scale(0.92 1)" font-size="30" text-anchor="start" fill="#000" font-weight="bold" font-family='"Liberation Sans", Arial, sans-serif' font-style="normal" >9.4</text>
<text transform="translate(1451 756.1) scale(0.92 1)" font-size="30" text-anchor="start" fill="#000" font-weight="bold" font-family='"Liberation Sans", Arial, sans-serif' font-style="normal" >9</text>
<g transform="rotate(-12 1753.8 557)"><path fill-rule="evenodd" fill="#a8fadb" d="M1649.3 557 a104.5 61 0 1 0 209 0 a104.5 61 0 1 0 -209 0 Z M1680.3 557 a73.5 43 0 1 0 147 0 a73.5 43 0 1 0 -147 0 Z"/></g>
<path d="M1584.4 496.4 Q1625 600 1667.4 579.4" fill="none" stroke="#8a8a8a" stroke-width="2.4" stroke-dasharray="6 3.4" opacity="0.75"/>
<path d="M1610.7 489.6 Q1640 598 1667.4 579.4" fill="none" stroke="#8a8a8a" stroke-width="2.4" stroke-dasharray="6 3.4" opacity="0.75"/>
<path d="M1632.7 484.5 Q1652 594 1667.4 579.4" fill="none" stroke="#8a8a8a" stroke-width="2.4" stroke-dasharray="6 3.4" opacity="0.75"/>
<path d="M1650.5 479.5 Q1662 590 1667.4 579.4" fill="none" stroke="#8a8a8a" stroke-width="2.4" stroke-dasharray="6 3.4" opacity="0.75"/>
<path d="M1672.5 473.5 Q1675 585 1667.4 579.4" fill="none" stroke="#8a8a8a" stroke-width="2.4" stroke-dasharray="6 3.4" opacity="0.75"/>
<path d="M1699 466.8 Q1700 570 1667.4 579.4" fill="none" stroke="#8a8a8a" stroke-width="2.4" stroke-dasharray="6 3.4" opacity="0.75"/>
<path d="M1754.7 460 Q1800 560 1842.7 537.9" fill="none" stroke="#8a8a8a" stroke-width="2.4" stroke-dasharray="6 3.4" opacity="0.75"/>
<path d="M1780.9 451.5 Q1815 555 1842.7 537.9" fill="none" stroke="#8a8a8a" stroke-width="2.4" stroke-dasharray="6 3.4" opacity="0.75"/>
<path d="M1802 445.6 Q1826 550 1842.7 537.9" fill="none" stroke="#8a8a8a" stroke-width="2.4" stroke-dasharray="6 3.4" opacity="0.75"/>
<path d="M1819.9 440.2 Q1836 546 1842.7 537.9" fill="none" stroke="#8a8a8a" stroke-width="2.4" stroke-dasharray="6 3.4" opacity="0.75"/>
<path d="M1841 432 Q1846 540 1842.7 537.9" fill="none" stroke="#8a8a8a" stroke-width="2.4" stroke-dasharray="6 3.4" opacity="0.75"/>
<path d="M1867.3 423.6 Q1872 530 1842.7 537.9" fill="none" stroke="#8a8a8a" stroke-width="2.4" stroke-dasharray="6 3.4" opacity="0.75"/>
<circle cx="1751.6" cy="549.2" r="24.7" fill="url(#bd30)"/>
<circle cx="1743.6" cy="541.3" r="6.5" fill="url(#hl31)"/>
<circle cx="1767.4" cy="543.8" r="6.5" fill="url(#hl32)"/>
<circle cx="1753.8" cy="557.4" r="4" fill="url(#hl33)"/>
<line x1="1753.3" y1="546" x2="1752.76" y2="588.1" stroke="#29b4ea" stroke-width="4.6"/>
<path d="M1752.6 600.6 L1747.17 587.03 L1752.73 590.48 L1758.37 587.17 Z" fill="#29b4ea"/>
<line x1="1827.5" y1="578.6" x2="1779.44" y2="557.52" stroke="#222222" stroke-width="4.2"/>
<path d="M1765.7 551.5 L1783.37 551.06 L1776.69 556.32 L1777.34 564.79 Z" fill="#222222"/>
<text transform="translate(1800.5 609.9)" font-size="29.5" text-anchor="start" fill="#000" font-weight="bold" font-family='"Liberation Sans", Arial, sans-serif' font-style="normal" >Bead</text>
<text x="1702.5" y="617.7" font-size="30" font-weight="bold" font-family='"Liberation Sans", Arial, sans-serif'>F<tspan font-size="21" dy="8.2">DEP_z</tspan></text>
<g transform="rotate(-12 1770.2 799.1)"><path fill-rule="evenodd" fill="#a8fadb" d="M1662.2 799.1 a108 62.5 0 1 0 216 0 a108 62.5 0 1 0 -216 0 Z M1692.2 799.1 a78 44 0 1 0 156 0 a78 44 0 1 0 -156 0 Z"/></g>
<path d="M1773.1 695.7 Q1820 800 1862.9 776.2" fill="none" stroke="#8a8a8a" stroke-width="2.4" stroke-dasharray="6 3.4" opacity="0.75"/>
<path d="M1799.4 687.3 Q1834 795 1862.9 776.2" fill="none" stroke="#8a8a8a" stroke-width="2.4" stroke-dasharray="6 3.4" opacity="0.75"/>
<path d="M1822.3 681.3 Q1844 790 1862.9 776.2" fill="none" stroke="#8a8a8a" stroke-width="2.4" stroke-dasharray="6 3.4" opacity="0.75"/>
<path d="M1840 675 Q1853 786 1862.9 776.2" fill="none" stroke="#8a8a8a" stroke-width="2.4" stroke-dasharray="6 3.4" opacity="0.75"/>
<path d="M1862 667 Q1864 780 1862.9 776.2" fill="none" stroke="#8a8a8a" stroke-width="2.4" stroke-dasharray="6 3.4" opacity="0.75"/>
<path d="M1889.2 659.3 Q1892 768 1862.9 776.2" fill="none" stroke="#8a8a8a" stroke-width="2.4" stroke-dasharray="6 3.4" opacity="0.75"/>
<circle cx="1713.8" cy="805" r="25" fill="url(#bd34)"/>
<circle cx="1706" cy="797" r="5.5" fill="url(#hl35)"/>
<circle cx="1729" cy="793" r="6.5" fill="url(#hl36)"/>
<circle cx="1716" cy="814" r="5.5" fill="url(#hl37)"/>
<path d="M1597.8 741.5 Q1650 840 1690 821" fill="none" stroke="#8a8a8a" stroke-width="2.4" stroke-dasharray="6 3.4" opacity="0.75"/>
<path d="M1624.9 732.5 Q1662 838 1690 821" fill="none" stroke="#8a8a8a" stroke-width="2.4" stroke-dasharray="6 3.4" opacity="0.75"/>
<path d="M1647.4 725.7 Q1672 834 1690 821" fill="none" stroke="#8a8a8a" stroke-width="2.4" stroke-dasharray="6 3.4" opacity="0.75"/>
<path d="M1668 718 Q1680 830 1690 821" fill="none" stroke="#8a8a8a" stroke-width="2.4" stroke-dasharray="6 3.4" opacity="0.75"/>
<path d="M1686.7 711 Q1692 823 1690 821" fill="none" stroke="#8a8a8a" stroke-width="2.4" stroke-dasharray="6 3.4" opacity="0.75"/>
<path d="M1713.8 702.5 Q1714 810 1690 821" fill="none" stroke="#8a8a8a" stroke-width="2.4" stroke-dasharray="6 3.4" opacity="0.75"/>
<line x1="1708.7" y1="800" x2="1708.48" y2="764.5" stroke="#22b8ee" stroke-width="4.4"/>
<path d="M1708.4 752.5 L1713.88 765.47 L1708.46 762.25 L1703.08 765.53 Z" fill="#22b8ee"/>
<line x1="1711.3" y1="806.7" x2="1787.44" y2="787.26" stroke="#2a84d2" stroke-width="4.6"/>
<path d="M1801 783.8 L1788.2 794.29 L1790.1 786.58 L1784.73 780.73 Z" fill="#2a84d2"/>
<line x1="1785" y1="844.8" x2="1731.72" y2="821.26" stroke="#222222" stroke-width="4.2"/>
<path d="M1718 815.2 L1735.67 814.81 L1728.98 820.05 L1729.6 828.53 Z" fill="#222222"/>
<text x="1661.5" y="728.8" font-size="30" font-weight="bold" font-family='"Liberation Sans", Arial, sans-serif'>F<tspan font-size="20.5" dy="7.9">DEP_z</tspan></text>
<text x="1793.6" y="779.6" font-size="30" font-weight="bold" font-family='"Liberation Sans", Arial, sans-serif'>F<tspan font-size="20.5" dy="8.4">DEP_x</tspan></text>
<text transform="translate(1779 876.2)" font-size="29.5" text-anchor="start" fill="#000" font-weight="bold" font-family='"Liberation Sans", Arial, sans-serif' font-style="normal" >Bead</text>
<line x1="140.5" y1="957.2" x2="140.5" y2="1337.3" stroke="#bdbdbd" stroke-width="1.25" stroke-dasharray="6.5 6.1"/>
<line x1="213.1" y1="957.2" x2="213.1" y2="1337.3" stroke="#bdbdbd" stroke-width="1.25" stroke-dasharray="6.5 6.1"/>
<line x1="285.7" y1="957.2" x2="285.7" y2="1337.3" stroke="#bdbdbd" stroke-width="1.25" stroke-dasharray="6.5 6.1"/>
<line x1="358.3" y1="957.2" x2="358.3" y2="1337.3" stroke="#bdbdbd" stroke-width="1.25" stroke-dasharray="6.5 6.1"/>
<line x1="430.9" y1="957.2" x2="430.9" y2="1337.3" stroke="#bdbdbd" stroke-width="1.25" stroke-dasharray="6.5 6.1"/>
<line x1="503.5" y1="957.2" x2="503.5" y2="1337.3" stroke="#bdbdbd" stroke-width="1.25" stroke-dasharray="6.5 6.1"/>
<line x1="576.1" y1="957.2" x2="576.1" y2="1337.3" stroke="#bdbdbd" stroke-width="1.25" stroke-dasharray="6.5 6.1"/>
<line x1="104.1" y1="1298.8" x2="612.3" y2="1298.8" stroke="#bdbdbd" stroke-width="1.25" stroke-dasharray="6.5 6.1"/>
<line x1="104.1" y1="1223" x2="612.3" y2="1223" stroke="#bdbdbd" stroke-width="1.25" stroke-dasharray="6.5 6.1"/>
<line x1="104.1" y1="1147.2" x2="612.3" y2="1147.2" stroke="#bdbdbd" stroke-width="1.25" stroke-dasharray="6.5 6.1"/>
<line x1="104.1" y1="1071.4" x2="612.3" y2="1071.4" stroke="#bdbdbd" stroke-width="1.25" stroke-dasharray="6.5 6.1"/>
<line x1="104.1" y1="995.6" x2="612.3" y2="995.6" stroke="#bdbdbd" stroke-width="1.25" stroke-dasharray="6.5 6.1"/>
<path d="M140.5 1298.8 L144.13 1294.07 L147.76 1288 L151.39 1283.01 L155.02 1277.08 L158.65 1271.65 L162.28 1267.57 L165.91 1262.38 L169.54 1255.25 L173.17 1251.38 L176.8 1246.34 L180.43 1239.64 L184.06 1235.98 L187.69 1230.38 L191.32 1226.49 L194.95 1221.45 L198.58 1217.9 L202.21 1212.12 L205.84 1206.86 L209.47 1202.84 L213.1 1197.44 L216.73 1192.58 L220.36 1188.86 L223.99 1182.12 L227.62 1177.29 L231.25 1172.71 L234.88 1168.09 L238.51 1160.97 L242.14 1156.68 L245.77 1150.99 L249.4 1145.58 L253.03 1140.96 L256.66 1135.5 L260.29 1131.73 L263.92 1125.87 L267.55 1121.78 L271.18 1115.8 L274.81 1111.12 L278.44 1108.14 L282.07 1103.37 L285.7 1098.57 L287.88 1094.13 L290.06 1092.6 L292.23 1089.46 L294.41 1087.52 L296.59 1084.42 L298.77 1082.1 L300.95 1079.65 L303.12 1076.65 L305.3 1074.27 L307.48 1071.24 L308.93 1070.26 L310.38 1068.26 L311.84 1067.04 L313.29 1065.38 L314.74 1064.8 L316.19 1064.69 L317.64 1061.88 L319.1 1060.46 L320.55 1059.46 L322 1059.11 L325.63 1056.13 L329.26 1054.73 L332.89 1050.89 L336.52 1049.14 L340.15 1047.57 L343.78 1045.94 L347.41 1042.1 L351.04 1039.83 L354.67 1040.01 L358.3 1036.61 L360.84 1036.28 L363.38 1035.67 L365.92 1034.19 L368.46 1032.01 L371 1030.75 L373.55 1031.7 L376.09 1029.58 L378.63 1030.18 L381.17 1028.09 L383.71 1028.58 L385.67 1027.15 L387.63 1026.84 L389.59 1027.95 L391.55 1026.94 L393.51 1028.72 L395.47 1029.54 L397.43 1028.72 L399.39 1030.46 L401.35 1030.59 L403.31 1030.68 L406.07 1031.16 L408.83 1033.31 L411.59 1034.83 L414.35 1034.34 L417.11 1037.06 L419.86 1037.11 L422.62 1038.79 L425.38 1041.49 L428.14 1042.79 L430.9 1044.11" fill="none" stroke="#fde725" stroke-width="2.1" stroke-linejoin="round" stroke-linecap="round" />
<path d="M140.5 1298.8 L144.13 1294.49 L147.76 1289.9 L151.39 1285.68 L155.02 1281.43 L158.65 1276.97 L162.28 1271.95 L165.91 1268.68 L169.54 1264.66 L173.17 1259.88 L176.8 1256.95 L180.43 1252.9 L184.06 1247.58 L187.69 1244.94 L191.32 1241.26 L194.95 1238.89 L198.58 1234.39 L202.21 1230.39 L205.84 1227.98 L209.47 1222.85 L213.1 1218.91 L216.73 1216.2 L220.36 1210.83 L223.99 1207.06 L227.62 1202.39 L231.25 1198.89 L234.88 1193.8 L238.51 1189.4 L242.14 1186.67 L245.77 1182.18 L249.4 1176.36 L253.03 1171.24 L256.66 1168.32 L260.29 1163.27 L263.92 1158.33 L267.55 1154.29 L271.18 1149.51 L274.81 1144.94 L278.44 1140.13 L282.07 1134.95 L285.7 1130.98 L289.33 1126.16 L292.96 1120.6 L296.59 1117.61 L300.22 1111.69 L303.85 1106.63 L307.48 1102.94 L311.11 1098.51 L314.74 1092.6 L318.37 1089.35 L322 1085 L325.63 1079.94 L329.26 1074.78 L332.89 1071.53 L336.52 1066.46 L340.15 1061.92 L343.78 1056.4 L347.41 1053.09 L351.04 1048.15 L354.67 1045.99 L358.3 1042.21 L361.93 1038.43 L365.56 1035.11 L369.19 1033.56 L372.82 1031.75 L376.45 1029.85 L380.08 1026.93 L383.71 1025.82 L387.34 1022.63 L390.97 1020.81 L394.6 1020.58 L396.78 1019.32 L398.96 1017.09 L401.13 1016.46 L403.31 1015.14 L405.49 1015.31 L407.67 1015.01 L409.85 1013.96 L412.02 1012.26 L414.2 1013.04 L416.38 1012.63 L417.83 1012.42 L419.28 1012.49 L420.74 1012.68 L422.19 1011.78 L423.64 1013.84 L425.09 1014.57 L426.54 1012.87 L428 1013.48 L429.45 1013.71 L430.9 1015.46 L434.53 1015.58 L438.16 1017.09 L441.79 1020.27 L445.42 1020.77 L449.05 1022.31 L452.68 1024.51 L456.31 1026.65 L459.94 1028.98 L463.57 1030.64 L467.2 1031.98" fill="none" stroke="#b5de2b" stroke-width="2.1" stroke-linejoin="round" stroke-linecap="round" />
<path d="M140.5 1298.8 L144.13 1295.99 L147.76 1292.9 L151.39 1288.25 L155.02 1285.46 L158.65 1280.8 L162.28 1279.1 L165.91 1273.73 L169.54 1270.83 L173.17 1266.98 L176.8 1263.79 L180.43 1260.62 L184.06 1258.29 L187.69 1256.59 L191.32 1251.99 L194.95 1250.37 L198.58 1247.15 L202.21 1243.37 L205.84 1240.66 L209.47 1237.8 L213.1 1233.37 L216.73 1230.79 L220.36 1228.03 L223.99 1224.8 L227.62 1219.93 L231.25 1217.27 L234.88 1212.99 L238.51 1210.33 L242.14 1206.98 L245.77 1202.47 L249.4 1198.02 L253.03 1195.63 L256.66 1190.28 L260.29 1185.99 L263.92 1182.2 L267.55 1178.06 L271.18 1175.78 L274.81 1170.19 L278.44 1165.45 L282.07 1163.08 L285.7 1158.33 L289.33 1154.08 L292.96 1149.21 L296.59 1145.14 L300.22 1140.69 L303.85 1135.63 L307.48 1132.98 L311.11 1128.42 L314.74 1123.78 L318.37 1119.27 L322 1114.83 L325.63 1108.09 L329.26 1103.52 L332.89 1100.31 L336.52 1094.36 L340.15 1089.77 L343.78 1084.82 L347.41 1079.87 L351.04 1074.5 L354.67 1070.14 L358.3 1066.41 L361.93 1062.77 L365.56 1058.57 L369.19 1055.28 L372.82 1050.69 L376.45 1046.84 L380.08 1044.26 L383.71 1041.74 L387.34 1038.45 L390.97 1035.07 L394.6 1031.75 L398.23 1028.73 L401.86 1027.23 L405.49 1024.04 L409.12 1022.35 L412.75 1020.82 L416.38 1019.07 L420.01 1016.96 L423.64 1014.69 L427.27 1013.53 L430.9 1011.08 L432.71 1010.65 L434.53 1010.15 L436.34 1008.49 L438.16 1007.13 L439.97 1007.59 L441.79 1005.89 L443.6 1005.07 L445.42 1003.32 L447.23 1002.61 L449.05 1003.47 L450.87 1001.99 L452.68 1002.06 L454.5 1003.2 L456.31 1002.78 L458.12 1003.68 L459.94 1002.33 L461.75 1002.98 L463.57 1002.84 L465.38 1003.51 L467.2 1004.31 L470.83 1005.41 L474.46 1007.32 L478.09 1010.11 L481.72 1010.93 L485.35 1014.3 L488.98 1016.11 L492.61 1016.84 L496.24 1020.64 L499.87 1022.61 L503.5 1023.65" fill="none" stroke="#6ece58" stroke-width="2.1" stroke-linejoin="round" stroke-linecap="round" />
<path d="M140.5 1298.8 L144.13 1296.98 L147.76 1292.45 L151.39 1291.3 L155.02 1288.9 L158.65 1284.28 L162.28 1283.18 L165.91 1278.8 L169.54 1276.48 L173.17 1273.41 L176.8 1270.48 L180.43 1268.71 L184.06 1265.63 L187.69 1264.82 L191.32 1260.63 L194.95 1258.69 L198.58 1255.71 L202.21 1254.54 L205.84 1250.5 L209.47 1247.44 L213.1 1246.74 L216.73 1243.41 L220.36 1240.11 L223.99 1236.74 L227.62 1235.28 L231.25 1232.59 L234.88 1229.55 L238.51 1225.8 L242.14 1222.51 L245.77 1220.29 L249.4 1217.24 L253.03 1214.01 L256.66 1210.9 L260.29 1207.49 L263.92 1204.95 L267.55 1200.64 L271.18 1196.14 L274.81 1193.93 L278.44 1189.61 L282.07 1187.31 L285.7 1182.39 L289.33 1178.44 L292.96 1174.73 L296.59 1171.1 L300.22 1167.13 L303.85 1162.65 L307.48 1157.91 L311.11 1155.41 L314.74 1151.3 L318.37 1145.58 L322 1140.95 L325.63 1137.57 L329.26 1133.38 L332.89 1128.33 L336.52 1125.09 L340.15 1120.44 L343.78 1116.13 L347.41 1110.8 L351.04 1107 L354.67 1102.83 L358.3 1097.5 L361.93 1092.64 L365.56 1089.87 L369.19 1084.67 L372.82 1081.1 L376.45 1075.9 L380.08 1072.38 L383.71 1069.04 L387.34 1065.2 L390.97 1061.79 L394.6 1057.04 L398.23 1053.67 L401.86 1050.64 L405.49 1046.79 L409.12 1043.54 L412.75 1039.27 L416.38 1037.56 L420.01 1032.58 L423.64 1030.8 L427.27 1027.68 L430.9 1025.23 L434.53 1021.76 L438.16 1019.23 L441.79 1017.38 L445.42 1015.19 L449.05 1012.39 L452.68 1009.92 L456.31 1008.91 L459.94 1006.21 L463.57 1003.86 L467.2 1003.25 L469.38 1002.81 L471.56 1001.87 L473.73 999.88 L475.91 999.16 L478.09 997.76 L480.27 997.32 L482.45 998.12 L484.62 997.74 L486.8 997.19 L488.98 997.07 L490.43 995.77 L491.88 995.35 L493.34 995.25 L494.79 996.76 L496.24 995.49 L497.69 996.92 L499.14 996.91 L500.6 996.53 L502.05 998.37 L503.5 998.8 L507.13 998.49 L510.76 1001.37 L514.39 1003.11 L518.02 1004.68 L521.65 1006.67 L525.28 1010.47 L528.91 1012.05 L532.54 1014.13 L536.17 1016.25 L539.8 1018.34" fill="none" stroke="#35b779" stroke-width="2.1" stroke-linejoin="round" stroke-linecap="round" />
<path d="M140.5 1298.8 L144.13 1297.75 L147.76 1295.24 L151.39 1292.77 L155.02 1292.44 L158.65 1290.46 L162.28 1289.75 L165.91 1287.67 L169.54 1284.96 L173.17 1284.3 L176.8 1280.49 L180.43 1278.23 L184.06 1277.72 L187.69 1273.32 L191.32 1272.05 L194.95 1268.52 L198.58 1265.92 L202.21 1264.34 L205.84 1260.88 L209.47 1258.41 L213.1 1255.66 L216.73 1254.57 L220.36 1251.22 L223.99 1248.56 L227.62 1247.06 L231.25 1245.23 L234.88 1244.06 L238.51 1241.05 L242.14 1239.2 L245.77 1236.15 L249.4 1233.96 L253.03 1231.93 L256.66 1230.53 L260.29 1227.22 L263.92 1224.97 L267.55 1223.68 L271.18 1219.69 L274.81 1217.78 L278.44 1216.44 L282.07 1211.94 L285.7 1210.93 L289.33 1207.55 L292.96 1203.6 L296.59 1200.7 L300.22 1197.52 L303.85 1193.96 L307.48 1190.96 L311.11 1187.81 L314.74 1184.6 L318.37 1181.3 L322 1176.27 L325.63 1172.6 L329.26 1169.47 L332.89 1165.37 L336.52 1162.54 L340.15 1159.01 L343.78 1154.94 L347.41 1149.97 L351.04 1147.94 L354.67 1142.91 L358.3 1139.44 L361.93 1134.09 L365.56 1130.76 L369.19 1126.45 L372.82 1121.86 L376.45 1117.07 L380.08 1112.05 L383.71 1108.5 L387.34 1102.9 L390.97 1100.14 L394.6 1095.42 L398.23 1091.46 L401.86 1087.03 L405.49 1081.11 L409.12 1076.82 L412.75 1073.68 L416.38 1069.35 L420.01 1064.6 L423.64 1059.73 L427.27 1055.57 L430.9 1051.88 L434.53 1048.53 L438.16 1045.93 L441.79 1041.84 L445.42 1038.89 L449.05 1034.81 L452.68 1031.5 L456.31 1029.22 L459.94 1026.11 L463.57 1022 L467.2 1020.92 L470.83 1016.48 L474.46 1013.7 L478.09 1011.07 L481.72 1009.98 L485.35 1007.32 L488.98 1005.09 L492.61 1002.93 L496.24 1000.23 L499.87 999.1 L503.5 998.33 L506.04 995.98 L508.58 995.83 L511.12 994.64 L513.66 993.52 L516.2 994.41 L518.75 992.01 L521.29 991.7 L523.83 991.63 L526.37 991.22 L528.91 991.14 L530 991.7 L531.09 990.93 L532.18 992.09 L533.27 991.13 L534.36 990.93 L535.44 991.56 L536.53 991.5 L537.62 990.87 L538.71 991.33 L539.8 993.4 L543.43 993.28 L547.06 995.29 L550.69 998.43 L554.32 999.71 L557.95 1002.11 L561.58 1004.65 L565.21 1005.81 L568.84 1007.12 L572.47 1010.64 L576.1 1012.28" fill="none" stroke="#1f9e89" stroke-width="2.1" stroke-linejoin="round" stroke-linecap="round" />
<line x1="140.5" y1="1337.3" x2="140.5" y2="1330.5" stroke="#111" stroke-width="1.3"/>
<line x1="140.5" y1="957.2" x2="140.5" y2="964" stroke="#111" stroke-width="1.3"/>
<line x1="213.1" y1="1337.3" x2="213.1" y2="1330.5" stroke="#111" stroke-width="1.3"/>
<line x1="213.1" y1="957.2" x2="213.1" y2="964" stroke="#111" stroke-width="1.3"/>
<line x1="285.7" y1="1337.3" x2="285.7" y2="1330.5" stroke="#111" stroke-width="1.3"/>
<line x1="285.7" y1="957.2" x2="285.7" y2="964" stroke="#111" stroke-width="1.3"/>
<line x1="358.3" y1="1337.3" x2="358.3" y2="1330.5" stroke="#111" stroke-width="1.3"/>
<line x1="358.3" y1="957.2" x2="358.3" y2="964" stroke="#111" stroke-width="1.3"/>
<line x1="430.9" y1="1337.3" x2="430.9" y2="1330.5" stroke="#111" stroke-width="1.3"/>
<line x1="430.9" y1="957.2" x2="430.9" y2="964" stroke="#111" stroke-width="1.3"/>
<line x1="503.5" y1="1337.3" x2="503.5" y2="1330.5" stroke="#111" stroke-width="1.3"/>
<line x1="503.5" y1="957.2" x2="503.5" y2="964" stroke="#111" stroke-width="1.3"/>
<line x1="576.1" y1="1337.3" x2="576.1" y2="1330.5" stroke="#111" stroke-width="1.3"/>
<line x1="576.1" y1="957.2" x2="576.1" y2="964" stroke="#111" stroke-width="1.3"/>
<line x1="104.2" y1="1337.3" x2="104.2" y2="1333.8" stroke="#111" stroke-width="1.3"/>
<line x1="104.2" y1="957.2" x2="104.2" y2="960.7" stroke="#111" stroke-width="1.3"/>
<line x1="176.8" y1="1337.3" x2="176.8" y2="1333.8" stroke="#111" stroke-width="1.3"/>
<line x1="176.8" y1="957.2" x2="176.8" y2="960.7" stroke="#111" stroke-width="1.3"/>
<line x1="249.4" y1="1337.3" x2="249.4" y2="1333.8" stroke="#111" stroke-width="1.3"/>
<line x1="249.4" y1="957.2" x2="249.4" y2="960.7" stroke="#111" stroke-width="1.3"/>
<line x1="322" y1="1337.3" x2="322" y2="1333.8" stroke="#111" stroke-width="1.3"/>
<line x1="322" y1="957.2" x2="322" y2="960.7" stroke="#111" stroke-width="1.3"/>
<line x1="394.6" y1="1337.3" x2="394.6" y2="1333.8" stroke="#111" stroke-width="1.3"/>
<line x1="394.6" y1="957.2" x2="394.6" y2="960.7" stroke="#111" stroke-width="1.3"/>
<line x1="467.2" y1="1337.3" x2="467.2" y2="1333.8" stroke="#111" stroke-width="1.3"/>
<line x1="467.2" y1="957.2" x2="467.2" y2="960.7" stroke="#111" stroke-width="1.3"/>
<line x1="539.8" y1="1337.3" x2="539.8" y2="1333.8" stroke="#111" stroke-width="1.3"/>
<line x1="539.8" y1="957.2" x2="539.8" y2="960.7" stroke="#111" stroke-width="1.3"/>
<line x1="612.4" y1="1337.3" x2="612.4" y2="1333.8" stroke="#111" stroke-width="1.3"/>
<line x1="612.4" y1="957.2" x2="612.4" y2="960.7" stroke="#111" stroke-width="1.3"/>
<line x1="104.1" y1="1298.8" x2="110.9" y2="1298.8" stroke="#111" stroke-width="1.3"/>
<line x1="612.3" y1="1298.8" x2="605.5" y2="1298.8" stroke="#111" stroke-width="1.3"/>
<line x1="104.1" y1="1223" x2="110.9" y2="1223" stroke="#111" stroke-width="1.3"/>
<line x1="612.3" y1="1223" x2="605.5" y2="1223" stroke="#111" stroke-width="1.3"/>
<line x1="104.1" y1="1147.2" x2="110.9" y2="1147.2" stroke="#111" stroke-width="1.3"/>
<line x1="612.3" y1="1147.2" x2="605.5" y2="1147.2" stroke="#111" stroke-width="1.3"/>
<line x1="104.1" y1="1071.4" x2="110.9" y2="1071.4" stroke="#111" stroke-width="1.3"/>
<line x1="612.3" y1="1071.4" x2="605.5" y2="1071.4" stroke="#111" stroke-width="1.3"/>
<line x1="104.1" y1="995.6" x2="110.9" y2="995.6" stroke="#111" stroke-width="1.3"/>
<line x1="612.3" y1="995.6" x2="605.5" y2="995.6" stroke="#111" stroke-width="1.3"/>
<line x1="104.1" y1="1336.7" x2="107.6" y2="1336.7" stroke="#111" stroke-width="1.3"/>
<line x1="612.3" y1="1336.7" x2="608.8" y2="1336.7" stroke="#111" stroke-width="1.3"/>
<line x1="104.1" y1="1260.9" x2="107.6" y2="1260.9" stroke="#111" stroke-width="1.3"/>
<line x1="612.3" y1="1260.9" x2="608.8" y2="1260.9" stroke="#111" stroke-width="1.3"/>
<line x1="104.1" y1="1185.1" x2="107.6" y2="1185.1" stroke="#111" stroke-width="1.3"/>
<line x1="612.3" y1="1185.1" x2="608.8" y2="1185.1" stroke="#111" stroke-width="1.3"/>
<line x1="104.1" y1="1109.3" x2="107.6" y2="1109.3" stroke="#111" stroke-width="1.3"/>
<line x1="612.3" y1="1109.3" x2="608.8" y2="1109.3" stroke="#111" stroke-width="1.3"/>
<line x1="104.1" y1="1033.5" x2="107.6" y2="1033.5" stroke="#111" stroke-width="1.3"/>
<line x1="612.3" y1="1033.5" x2="608.8" y2="1033.5" stroke="#111" stroke-width="1.3"/>
<line x1="104.1" y1="957.7" x2="107.6" y2="957.7" stroke="#111" stroke-width="1.3"/>
<line x1="612.3" y1="957.7" x2="608.8" y2="957.7" stroke="#111" stroke-width="1.3"/>
<rect x="104.1" y="957.2" width="508.2" height="380.1" fill="none" stroke="#111" stroke-width="1.25"/>
<rect x="371.8" y="1134.2" width="204.4" height="186.4" fill="#fff" stroke="#8c8c8c" stroke-width="1.3"/>
<line x1="374.4" y1="1155.3" x2="436" y2="1155.3" stroke="#fde725" stroke-width="2.2"/>
<text transform="translate(451 1163.5) scale(0.99 1)" font-size="25.3" font-weight="bold" font-family='"Liberation Sans", Arial, sans-serif'><tspan font-family='"Liberation Serif", "Times New Roman", serif' font-style="italic">Φ</tspan> = 16 μm</text>
<line x1="374.4" y1="1191.85" x2="436" y2="1191.85" stroke="#b5de2b" stroke-width="2.2"/>
<text transform="translate(451 1200.05) scale(0.99 1)" font-size="25.3" font-weight="bold" font-family='"Liberation Sans", Arial, sans-serif'><tspan font-family='"Liberation Serif", "Times New Roman", serif' font-style="italic">Φ</tspan> = 18 μm</text>
<line x1="374.4" y1="1228.4" x2="436" y2="1228.4" stroke="#6ece58" stroke-width="2.2"/>
<text transform="translate(451 1236.6) scale(0.99 1)" font-size="25.3" font-weight="bold" font-family='"Liberation Sans", Arial, sans-serif'><tspan font-family='"Liberation Serif", "Times New Roman", serif' font-style="italic">Φ</tspan> = 20 μm</text>
<line x1="374.4" y1="1264.95" x2="436" y2="1264.95" stroke="#35b779" stroke-width="2.2"/>
<text transform="translate(451 1273.15) scale(0.99 1)" font-size="25.3" font-weight="bold" font-family='"Liberation Sans", Arial, sans-serif'><tspan font-family='"Liberation Serif", "Times New Roman", serif' font-style="italic">Φ</tspan> = 22 μm</text>
<line x1="374.4" y1="1301.5" x2="436" y2="1301.5" stroke="#1f9e89" stroke-width="2.2"/>
<text transform="translate(451 1309.7) scale(0.99 1)" font-size="25.3" font-weight="bold" font-family='"Liberation Sans", Arial, sans-serif'><tspan font-family='"Liberation Serif", "Times New Roman", serif' font-style="italic">Φ</tspan> = 24 μm</text>
<text transform="translate(89.4 1308.7) scale(0.92 1)" font-size="31.5" text-anchor="end" fill="#000" font-weight="bold" font-family='"Liberation Sans", Arial, sans-serif' font-style="normal" >0</text>
<text transform="translate(89.4 1232.9) scale(0.92 1)" font-size="31.5" text-anchor="end" fill="#000" font-weight="bold" font-family='"Liberation Sans", Arial, sans-serif' font-style="normal" >10</text>
<text transform="translate(89.4 1157.1) scale(0.92 1)" font-size="31.5" text-anchor="end" fill="#000" font-weight="bold" font-family='"Liberation Sans", Arial, sans-serif' font-style="normal" >20</text>
<text transform="translate(89.4 1081.3) scale(0.92 1)" font-size="31.5" text-anchor="end" fill="#000" font-weight="bold" font-family='"Liberation Sans", Arial, sans-serif' font-style="normal" >30</text>
<text transform="translate(89.4 1005.5) scale(0.92 1)" font-size="31.5" text-anchor="end" fill="#000" font-weight="bold" font-family='"Liberation Sans", Arial, sans-serif' font-style="normal" >40</text>
<text transform="translate(140.5 1372.8) scale(0.92 1)" font-size="31.5" text-anchor="middle" fill="#000" font-weight="bold" font-family='"Liberation Sans", Arial, sans-serif' font-style="normal" >0</text>
<text transform="translate(213.1 1372.8) scale(0.92 1)" font-size="31.5" text-anchor="middle" fill="#000" font-weight="bold" font-family='"Liberation Sans", Arial, sans-serif' font-style="normal" >2</text>
<text transform="translate(285.7 1372.8) scale(0.92 1)" font-size="31.5" text-anchor="middle" fill="#000" font-weight="bold" font-family='"Liberation Sans", Arial, sans-serif' font-style="normal" >4</text>
<text transform="translate(358.3 1372.8) scale(0.92 1)" font-size="31.5" text-anchor="middle" fill="#000" font-weight="bold" font-family='"Liberation Sans", Arial, sans-serif' font-style="normal" >6</text>
<text transform="translate(430.9 1372.8) scale(0.92 1)" font-size="31.5" text-anchor="middle" fill="#000" font-weight="bold" font-family='"Liberation Sans", Arial, sans-serif' font-style="normal" >8</text>
<text transform="translate(503.5 1372.8) scale(0.92 1)" font-size="31.5" text-anchor="middle" fill="#000" font-weight="bold" font-family='"Liberation Sans", Arial, sans-serif' font-style="normal" >10</text>
<text transform="translate(576.1 1372.8) scale(0.92 1)" font-size="31.5" text-anchor="middle" fill="#000" font-weight="bold" font-family='"Liberation Sans", Arial, sans-serif' font-style="normal" >12</text>
<text transform="translate(357.2 1419) scale(0.962 1)" font-size="30" text-anchor="middle" font-weight="bold" font-family='"Liberation Sans", Arial, sans-serif'><tspan font-style="italic">X</tspan>-coordinates of the ball (μm)</text>
<text transform="translate(24 1147) rotate(-90)" font-size="30" text-anchor="middle" font-weight="bold" font-family='"Liberation Sans", Arial, sans-serif'>F<tspan font-size="21" dy="8.2">DEP_x</tspan><tspan dy="-8.2"> (pN)</tspan></text>
<line x1="817.6" y1="960.3" x2="817.6" y2="1337.3" stroke="#bdbdbd" stroke-width="1.25" stroke-dasharray="6.3 6.0"/>
<line x1="888.54" y1="960.3" x2="888.54" y2="1337.3" stroke="#bdbdbd" stroke-width="1.25" stroke-dasharray="6.3 6.0"/>
<line x1="959.48" y1="960.3" x2="959.48" y2="1337.3" stroke="#bdbdbd" stroke-width="1.25" stroke-dasharray="6.3 6.0"/>
<line x1="1030.42" y1="960.3" x2="1030.42" y2="1337.3" stroke="#bdbdbd" stroke-width="1.25" stroke-dasharray="6.3 6.0"/>
<line x1="1101.36" y1="960.3" x2="1101.36" y2="1337.3" stroke="#bdbdbd" stroke-width="1.25" stroke-dasharray="6.3 6.0"/>
<line x1="1172.3" y1="960.3" x2="1172.3" y2="1337.3" stroke="#bdbdbd" stroke-width="1.25" stroke-dasharray="6.3 6.0"/>
<line x1="1243.24" y1="960.3" x2="1243.24" y2="1337.3" stroke="#bdbdbd" stroke-width="1.25" stroke-dasharray="6.3 6.0"/>
<line x1="782.6" y1="1274.33" x2="1278.6" y2="1274.33" stroke="#bdbdbd" stroke-width="1.25" stroke-dasharray="6.3 6.0"/>
<line x1="782.6" y1="1180.27" x2="1278.6" y2="1180.27" stroke="#bdbdbd" stroke-width="1.25" stroke-dasharray="6.3 6.0"/>
<line x1="782.6" y1="1086.2" x2="1278.6" y2="1086.2" stroke="#bdbdbd" stroke-width="1.25" stroke-dasharray="6.3 6.0"/>
<line x1="782.6" y1="992.13" x2="1278.6" y2="992.13" stroke="#bdbdbd" stroke-width="1.25" stroke-dasharray="6.3 6.0"/>
<path d="M817.6 1244.86 L821.15 1244.6 L824.69 1244.36 L828.24 1244.33 L831.79 1244 L835.34 1244.77 L838.88 1244.33 L842.43 1247.26 L845.98 1246.01 L849.52 1244.62 L853.07 1245.64 L856.62 1244.94 L860.16 1247.5 L863.71 1246.46 L867.26 1247.23 L870.81 1246.37 L874.35 1246.33 L877.9 1248.14 L881.45 1247.55 L884.99 1247.39 L888.54 1245.43 L892.97 1245.95 L897.41 1247.89 L901.84 1245.93 L906.27 1248.04 L910.71 1246.56 L915.14 1248.11 L919.58 1248.49 L924.01 1245.73 L928.44 1247.74 L932.88 1247.63 L936.57 1245.12 L940.26 1245.35 L943.94 1247.05 L947.63 1244.79 L951.32 1245.95 L955.01 1245.32 L958.7 1246.59 L962.39 1244.04 L966.08 1244.56 L969.77 1243.39 L973.46 1243.31 L977.14 1244.87 L980.83 1244.35 L984.52 1244.62 L988.21 1244.31 L991.9 1244.15 L995.59 1242.94 L999.28 1241.45 L1002.97 1242.72 L1006.66 1239.91 L1009.95 1240.29 L1013.25 1239.64 L1016.55 1237.26 L1019.85 1237.48 L1023.15 1237.1 L1026.45 1235.63 L1029.75 1233.91 L1033.04 1234.85 L1036.34 1230.81 L1039.64 1232.56 L1043.37 1228.84 L1047.09 1227.11 L1050.82 1228.23 L1054.54 1224.27 L1058.26 1223.96 L1061.99 1221.53 L1065.71 1221.4 L1069.44 1219.18 L1073.16 1216.44 L1076.89 1211.45 L1080.15 1211.33 L1083.41 1206.86 L1086.68 1203.39 L1089.94 1200.27 L1093.2 1198.92 L1096.47 1195.57 L1099.73 1191.65 L1102.99 1187.45 L1106.25 1186.13 L1109.52 1180.74 L1113.24 1176.79 L1116.97 1172.82 L1120.69 1171.62 L1124.42 1164.95 L1128.14 1163.74 L1131.86 1158.97 L1135.59 1153.99 L1139.31 1148.72 L1143.04 1146.01 L1146.76 1139.43 L1149.92 1136.33 L1153.08 1132.53 L1156.23 1127.78 L1159.39 1123.33 L1162.55 1118.65 L1165.7 1113.38 L1168.86 1106.62 L1172.02 1100.64 L1175.17 1098.33 L1178.33 1093.89 L1181.13 1086.79 L1183.93 1084.11 L1186.74 1080.43 L1189.54 1076.92 L1192.34 1071.77 L1195.14 1067.01 L1197.94 1064.13 L1200.75 1060.18 L1203.55 1057.24 L1206.35 1050.4 L1210.04 1047.68 L1213.73 1040.7 L1217.42 1034.06 L1221.11 1030.7 L1224.8 1023.21 L1228.48 1016.92 L1232.17 1012.3 L1235.86 1006.19 L1239.55 1002.72 L1243.24 995.9" fill="none" stroke="#b6d8ed" stroke-width="2.1" stroke-linejoin="round" stroke-linecap="round" />
<path d="M817.6 1263.04 L821.15 1263.25 L824.69 1264.15 L828.24 1261.98 L831.79 1263.71 L835.34 1263.22 L838.88 1261.51 L842.43 1261.98 L845.98 1261.58 L849.52 1263.21 L853.07 1263.08 L857.33 1262.29 L861.58 1263.05 L865.84 1263.6 L870.1 1263.21 L874.35 1263.97 L878.61 1263.19 L882.86 1261.2 L887.12 1261.21 L891.38 1262.14 L895.63 1262.42 L899.36 1262.8 L903.08 1263.46 L906.81 1262.76 L910.53 1261.03 L914.26 1260.6 L917.98 1262.01 L921.7 1260.48 L925.43 1260.27 L929.15 1260.25 L932.88 1260.02 L936.57 1259.37 L940.26 1260.26 L943.94 1258.82 L947.63 1259.74 L951.32 1258.66 L955.01 1257.28 L958.7 1256.98 L962.39 1257.62 L966.08 1254.89 L969.77 1255.05 L973.46 1254.42 L977.14 1255.3 L980.83 1252.66 L984.52 1252.57 L988.21 1250.16 L991.9 1249.66 L995.59 1247.33 L999.28 1246.57 L1002.97 1244.73 L1006.66 1244.71 L1010.34 1242.29 L1014.03 1240.46 L1017.72 1238.6 L1021.41 1238.45 L1025.1 1235.18 L1028.79 1233.28 L1032.48 1231.93 L1036.17 1229 L1039.86 1226.91 L1043.54 1225.99 L1046.88 1223.79 L1050.21 1222.72 L1053.55 1218.34 L1056.88 1215.65 L1060.21 1214.61 L1063.55 1211.32 L1066.88 1208.46 L1070.22 1205.48 L1073.55 1204.09 L1076.89 1198.83 L1080.04 1196.08 L1083.2 1192.26 L1086.36 1189.32 L1089.51 1184.81 L1092.67 1180.31 L1095.83 1176.56 L1098.98 1171.98 L1102.14 1169.7 L1105.3 1164.71 L1108.45 1159.13 L1112.71 1151.84 L1116.97 1146.17 L1121.22 1137.39 L1125.48 1130.03 L1129.74 1124.22 L1133.99 1115.17 L1138.25 1108.29 L1142.51 1101.3 L1146.76 1093.74 L1151.02 1086.15 L1153.04 1083.38 L1155.06 1080.23 L1157.08 1077.7 L1159.11 1073.37 L1161.13 1070.69 L1163.15 1067.04 L1165.17 1064.18 L1167.19 1062.33 L1169.21 1057.26 L1171.24 1057.04 L1174.89 1050.17 L1178.54 1044.92 L1182.2 1038.83 L1185.85 1034.05 L1189.5 1026.07 L1193.16 1021.76 L1196.81 1017.06 L1200.46 1009.51 L1204.12 1005.4 L1207.77 998.41" fill="none" stroke="#9cc4e4" stroke-width="2.1" stroke-linejoin="round" stroke-linecap="round" />
<path d="M817.6 1278.09 L821.15 1277.89 L824.69 1278.49 L828.24 1277.69 L831.79 1276.46 L835.34 1276.86 L838.88 1278.06 L842.43 1276.76 L845.98 1277.23 L849.52 1277.99 L853.07 1278.59 L856.62 1277.05 L860.16 1277.06 L863.71 1275.73 L867.26 1275.6 L870.81 1276.61 L874.35 1277.26 L877.9 1275.36 L881.45 1277.9 L884.99 1277.23 L888.54 1275.38 L891.84 1274.76 L895.14 1275.73 L898.44 1273.62 L901.73 1272.17 L905.03 1273.11 L908.33 1272.21 L911.63 1272.09 L914.93 1271.08 L918.23 1268.09 L921.53 1269.06 L924.86 1266.32 L928.2 1265.53 L931.53 1265.57 L934.86 1265.61 L938.2 1262.3 L941.53 1262.7 L944.87 1261.77 L948.2 1260.8 L951.53 1257.35 L954.87 1257.42 L957.81 1256.68 L960.76 1254.62 L963.7 1254.2 L966.64 1251.02 L969.59 1249.91 L972.53 1248.64 L975.48 1245.31 L978.42 1243.31 L981.36 1243.95 L984.31 1240.36 L987.64 1238.9 L990.98 1234.5 L994.31 1232.59 L997.65 1231.82 L1000.98 1229.22 L1004.31 1226.99 L1007.65 1221.7 L1010.98 1221.14 L1014.32 1217.33 L1017.65 1214.84 L1021.16 1211.17 L1024.67 1208.13 L1028.19 1204.46 L1031.7 1203.12 L1035.21 1197.71 L1038.72 1195.64 L1042.23 1191.29 L1045.74 1188.15 L1049.25 1184.36 L1052.77 1179.54 L1056.28 1175.46 L1059.79 1171.28 L1063.3 1165.39 L1066.81 1161.05 L1070.32 1157.85 L1073.84 1152.16 L1077.35 1146.48 L1080.86 1139.99 L1084.37 1135.07 L1087.88 1131.21 L1091.04 1128.49 L1094.2 1121.73 L1097.35 1118.46 L1100.51 1113.63 L1103.67 1108.82 L1106.82 1104.64 L1109.98 1100.65 L1113.14 1094.78 L1116.29 1091.85 L1119.45 1087.17 L1120.73 1083.8 L1122 1083.88 L1123.28 1081.57 L1124.56 1077.87 L1125.83 1078.23 L1127.11 1073.77 L1128.39 1072.17 L1129.67 1070.96 L1130.94 1069.41 L1132.22 1065.88 L1134.1 1062.59 L1135.98 1062.13 L1137.86 1058.23 L1139.74 1055.17 L1141.62 1052.51 L1143.5 1050.22 L1145.38 1047.97 L1147.26 1043.83 L1149.14 1040.34 L1151.02 1039.89 L1153.15 1036.26 L1155.27 1031.31 L1157.4 1028.32 L1159.53 1025.65 L1161.66 1024.59 L1163.79 1019.35 L1165.92 1015.49 L1168.04 1012.38 L1170.17 1010.25 L1172.3 1007.81" fill="none" stroke="#7ab6e8" stroke-width="2.1" stroke-linejoin="round" stroke-linecap="round" />
<path d="M817.6 1290.63 L819.83 1291.87 L822.07 1289.21 L824.3 1291 L826.54 1289.5 L828.77 1288.38 L831.01 1288.96 L833.24 1290.58 L835.48 1289.88 L837.71 1287.7 L839.95 1289.85 L844.77 1287.82 L849.59 1287.81 L854.42 1287.96 L859.24 1285.83 L864.07 1286.93 L868.89 1285.97 L873.71 1284.32 L878.54 1284.43 L883.36 1283.57 L888.19 1280.99 L891.16 1279.89 L894.14 1278.93 L897.12 1280.75 L900.1 1279.28 L903.08 1279.05 L906.06 1277.49 L909.04 1277.06 L912.02 1274.73 L915 1275.4 L917.98 1275.1 L921.67 1271.23 L925.36 1270.88 L929.05 1267.13 L932.74 1265.1 L936.42 1261.27 L940.11 1259.68 L943.8 1256.65 L947.49 1254.84 L951.18 1250.92 L954.87 1248.76 L957.46 1244.96 L960.05 1243.35 L962.64 1242.12 L965.23 1239.29 L967.82 1236.28 L970.4 1232.49 L972.99 1231.55 L975.58 1227.15 L978.17 1224.57 L980.76 1223.58 L984.45 1217.74 L988.14 1215.45 L991.83 1211.17 L995.52 1205.47 L999.21 1202.29 L1002.9 1195.96 L1006.58 1192.84 L1010.27 1188.95 L1013.96 1183.09 L1017.65 1181.11 L1021.16 1174.78 L1024.67 1172.73 L1028.19 1168.27 L1031.7 1161.59 L1035.21 1158.24 L1038.72 1155.44 L1042.23 1151.49 L1045.74 1144.45 L1049.25 1140.99 L1052.77 1135.99 L1056.49 1133.24 L1060.21 1126.73 L1063.94 1122.5 L1067.66 1117.73 L1071.39 1112.23 L1075.11 1106.13 L1078.84 1101.71 L1082.56 1096.35 L1086.29 1091.91 L1090.01 1084.53 L1092.21 1082.07 L1094.41 1078.57 L1096.61 1076.74 L1098.81 1072.43 L1101.01 1070.47 L1103.2 1067.2 L1105.4 1064.19 L1107.6 1060.55 L1109.8 1058.44 L1112 1056.11 L1114.41 1052.63 L1116.82 1048.33 L1119.24 1045.01 L1121.65 1038.45 L1124.06 1035.79 L1126.47 1030.95 L1128.88 1029.36 L1131.3 1023.92 L1133.71 1018.65 L1136.12 1015.96" fill="none" stroke="#5aa0ef" stroke-width="2.1" stroke-linejoin="round" stroke-linecap="round" />
<path d="M817.6 1294.4 L819.37 1294.04 L821.15 1294.67 L822.92 1294.6 L824.69 1295.79 L826.47 1295.66 L828.24 1295.67 L830.01 1295 L831.79 1294.94 L833.56 1293.32 L835.34 1295.49 L837.64 1294.96 L839.95 1294.63 L842.25 1294.71 L844.56 1293.99 L846.86 1293.78 L849.17 1292.61 L851.47 1293.59 L853.78 1290.32 L856.08 1291.57 L858.39 1289.26 L862.11 1289.18 L865.84 1288.37 L869.56 1288.11 L873.29 1285.7 L877.01 1287.3 L880.74 1284.49 L884.46 1284.47 L888.19 1281.94 L891.91 1280.29 L895.63 1280.4 L899.36 1278.47 L903.08 1277.1 L906.81 1274.41 L910.53 1272.72 L914.26 1269.42 L917.98 1265.19 L921.7 1264.53 L925.43 1261.99 L929.15 1258.63 L932.88 1256.2 L935.82 1252.27 L938.77 1249.67 L941.71 1248.64 L944.65 1245.52 L947.6 1241.17 L950.54 1237.24 L953.49 1234.98 L956.43 1232.39 L959.37 1227.34 L962.32 1226.96 L965.65 1222.83 L968.99 1216.49 L972.32 1213.45 L975.65 1210.29 L978.99 1204.32 L982.32 1198.47 L985.66 1195.4 L988.99 1191.33 L992.33 1187.48 L995.66 1182.86 L998.99 1175.51 L1002.33 1171.94 L1005.66 1165.62 L1009 1163.38 L1012.33 1157.74 L1015.66 1153.25 L1019 1147.04 L1022.33 1142.97 L1025.67 1137.23 L1029 1131.64 L1031.95 1127.42 L1034.89 1123.63 L1037.83 1119.05 L1040.78 1111.48 L1043.72 1109.31 L1046.67 1103.64 L1049.61 1099.37 L1052.55 1094.4 L1055.5 1091.3 L1058.44 1086.16 L1060.6 1083.62 L1062.77 1079.16 L1064.93 1074.91 L1067.1 1072.91 L1069.26 1069.09 L1071.42 1068.11 L1073.59 1065.7 L1075.75 1061.01 L1077.91 1058.07 L1080.08 1054.62 L1082.17 1052.09 L1084.26 1048.12 L1086.36 1044.57 L1088.45 1040.71 L1090.54 1039.32 L1092.63 1035.58 L1094.73 1031.09 L1096.82 1029.67 L1098.91 1026.71 L1101.01 1022.24" fill="none" stroke="#3d86e8" stroke-width="2.1" stroke-linejoin="round" stroke-linecap="round" />
<line x1="817.6" y1="1337.3" x2="817.6" y2="1330.8" stroke="#111" stroke-width="1.3"/>
<line x1="817.6" y1="960.3" x2="817.6" y2="966.8" stroke="#111" stroke-width="1.3"/>
<line x1="888.54" y1="1337.3" x2="888.54" y2="1330.8" stroke="#111" stroke-width="1.3"/>
<line x1="888.54" y1="960.3" x2="888.54" y2="966.8" stroke="#111" stroke-width="1.3"/>
<line x1="959.48" y1="1337.3" x2="959.48" y2="1330.8" stroke="#111" stroke-width="1.3"/>
<line x1="959.48" y1="960.3" x2="959.48" y2="966.8" stroke="#111" stroke-width="1.3"/>
<line x1="1030.42" y1="1337.3" x2="1030.42" y2="1330.8" stroke="#111" stroke-width="1.3"/>
<line x1="1030.42" y1="960.3" x2="1030.42" y2="966.8" stroke="#111" stroke-width="1.3"/>
<line x1="1101.36" y1="1337.3" x2="1101.36" y2="1330.8" stroke="#111" stroke-width="1.3"/>
<line x1="1101.36" y1="960.3" x2="1101.36" y2="966.8" stroke="#111" stroke-width="1.3"/>
<line x1="1172.3" y1="1337.3" x2="1172.3" y2="1330.8" stroke="#111" stroke-width="1.3"/>
<line x1="1172.3" y1="960.3" x2="1172.3" y2="966.8" stroke="#111" stroke-width="1.3"/>
<line x1="1243.24" y1="1337.3" x2="1243.24" y2="1330.8" stroke="#111" stroke-width="1.3"/>
<line x1="1243.24" y1="960.3" x2="1243.24" y2="966.8" stroke="#111" stroke-width="1.3"/>
<line x1="782.13" y1="1337.3" x2="782.13" y2="1334" stroke="#111" stroke-width="1.3"/>
<line x1="782.13" y1="960.3" x2="782.13" y2="963.6" stroke="#111" stroke-width="1.3"/>
<line x1="853.07" y1="1337.3" x2="853.07" y2="1334" stroke="#111" stroke-width="1.3"/>
<line x1="853.07" y1="960.3" x2="853.07" y2="963.6" stroke="#111" stroke-width="1.3"/>
<line x1="924.01" y1="1337.3" x2="924.01" y2="1334" stroke="#111" stroke-width="1.3"/>
<line x1="924.01" y1="960.3" x2="924.01" y2="963.6" stroke="#111" stroke-width="1.3"/>
<line x1="994.95" y1="1337.3" x2="994.95" y2="1334" stroke="#111" stroke-width="1.3"/>
<line x1="994.95" y1="960.3" x2="994.95" y2="963.6" stroke="#111" stroke-width="1.3"/>
<line x1="1065.89" y1="1337.3" x2="1065.89" y2="1334" stroke="#111" stroke-width="1.3"/>
<line x1="1065.89" y1="960.3" x2="1065.89" y2="963.6" stroke="#111" stroke-width="1.3"/>
<line x1="1136.83" y1="1337.3" x2="1136.83" y2="1334" stroke="#111" stroke-width="1.3"/>
<line x1="1136.83" y1="960.3" x2="1136.83" y2="963.6" stroke="#111" stroke-width="1.3"/>
<line x1="1207.77" y1="1337.3" x2="1207.77" y2="1334" stroke="#111" stroke-width="1.3"/>
<line x1="1207.77" y1="960.3" x2="1207.77" y2="963.6" stroke="#111" stroke-width="1.3"/>
<line x1="1278.71" y1="1337.3" x2="1278.71" y2="1334" stroke="#111" stroke-width="1.3"/>
<line x1="1278.71" y1="960.3" x2="1278.71" y2="963.6" stroke="#111" stroke-width="1.3"/>
<line x1="782.6" y1="1274.33" x2="789.1" y2="1274.33" stroke="#111" stroke-width="1.3"/>
<line x1="1278.6" y1="1274.33" x2="1272.1" y2="1274.33" stroke="#111" stroke-width="1.3"/>
<line x1="782.6" y1="1180.27" x2="789.1" y2="1180.27" stroke="#111" stroke-width="1.3"/>
<line x1="1278.6" y1="1180.27" x2="1272.1" y2="1180.27" stroke="#111" stroke-width="1.3"/>
<line x1="782.6" y1="1086.2" x2="789.1" y2="1086.2" stroke="#111" stroke-width="1.3"/>
<line x1="1278.6" y1="1086.2" x2="1272.1" y2="1086.2" stroke="#111" stroke-width="1.3"/>
<line x1="782.6" y1="992.13" x2="789.1" y2="992.13" stroke="#111" stroke-width="1.3"/>
<line x1="1278.6" y1="992.13" x2="1272.1" y2="992.13" stroke="#111" stroke-width="1.3"/>
<line x1="782.6" y1="1321.36" x2="785.9" y2="1321.36" stroke="#111" stroke-width="1.3"/>
<line x1="1278.6" y1="1321.36" x2="1275.3" y2="1321.36" stroke="#111" stroke-width="1.3"/>
<line x1="782.6" y1="1227.3" x2="785.9" y2="1227.3" stroke="#111" stroke-width="1.3"/>
<line x1="1278.6" y1="1227.3" x2="1275.3" y2="1227.3" stroke="#111" stroke-width="1.3"/>
<line x1="782.6" y1="1133.23" x2="785.9" y2="1133.23" stroke="#111" stroke-width="1.3"/>
<line x1="1278.6" y1="1133.23" x2="1275.3" y2="1133.23" stroke="#111" stroke-width="1.3"/>
<line x1="782.6" y1="1039.17" x2="785.9" y2="1039.17" stroke="#111" stroke-width="1.3"/>
<line x1="1278.6" y1="1039.17" x2="1275.3" y2="1039.17" stroke="#111" stroke-width="1.3"/>
<rect x="782.6" y="960.3" width="496" height="377" fill="none" stroke="#111" stroke-width="1.25"/>
<rect x="787.3" y="964.4" width="216.8" height="198.5" fill="#fff" stroke="#8c8c8c" stroke-width="1.3"/>
<line x1="790" y1="987.8" x2="856.5" y2="987.8" stroke="#3d86e8" stroke-width="2.2"/>
<text transform="translate(871 996.4) scale(0.99 1)" font-size="25.3" font-weight="bold" font-family='"Liberation Sans", Arial, sans-serif'><tspan font-family='"Liberation Serif", "Times New Roman", serif' font-style="italic">Φ</tspan> = 16 μm</text>
<line x1="790" y1="1026.6" x2="856.5" y2="1026.6" stroke="#5aa0ef" stroke-width="2.2"/>
<text transform="translate(871 1035.2) scale(0.99 1)" font-size="25.3" font-weight="bold" font-family='"Liberation Sans", Arial, sans-serif'><tspan font-family='"Liberation Serif", "Times New Roman", serif' font-style="italic">Φ</tspan> = 18 μm</text>
<line x1="790" y1="1065.2" x2="856.5" y2="1065.2" stroke="#7ab6e8" stroke-width="2.2"/>
<text transform="translate(871 1073.8) scale(0.99 1)" font-size="25.3" font-weight="bold" font-family='"Liberation Sans", Arial, sans-serif'><tspan font-family='"Liberation Serif", "Times New Roman", serif' font-style="italic">Φ</tspan> = 20 μm</text>
<line x1="790" y1="1104.4" x2="856.5" y2="1104.4" stroke="#9cc4e4" stroke-width="2.2"/>
<text transform="translate(871 1113) scale(0.99 1)" font-size="25.3" font-weight="bold" font-family='"Liberation Sans", Arial, sans-serif'><tspan font-family='"Liberation Serif", "Times New Roman", serif' font-style="italic">Φ</tspan> = 22 μm</text>
<line x1="790" y1="1143.4" x2="856.5" y2="1143.4" stroke="#b6d8ed" stroke-width="2.2"/>
<text transform="translate(871 1152) scale(0.99 1)" font-size="25.3" font-weight="bold" font-family='"Liberation Sans", Arial, sans-serif'><tspan font-family='"Liberation Serif", "Times New Roman", serif' font-style="italic">Φ</tspan> = 24 μm</text>
<text transform="translate(769.4 1283.53) scale(0.92 1)" font-size="31.5" text-anchor="end" fill="#000" font-weight="bold" font-family='"Liberation Sans", Arial, sans-serif' font-style="normal" >–30</text>
<text transform="translate(769.4 1189.47) scale(0.92 1)" font-size="31.5" text-anchor="end" fill="#000" font-weight="bold" font-family='"Liberation Sans", Arial, sans-serif' font-style="normal" >–15</text>
<text transform="translate(769.4 1095.4) scale(0.92 1)" font-size="31.5" text-anchor="end" fill="#000" font-weight="bold" font-family='"Liberation Sans", Arial, sans-serif' font-style="normal" >0</text>
<text transform="translate(769.4 1001.34) scale(0.92 1)" font-size="31.5" text-anchor="end" fill="#000" font-weight="bold" font-family='"Liberation Sans", Arial, sans-serif' font-style="normal" >15</text>
<text transform="translate(817.6 1372.8) scale(0.92 1)" font-size="31.5" text-anchor="middle" fill="#000" font-weight="bold" font-family='"Liberation Sans", Arial, sans-serif' font-style="normal" >0</text>
<text transform="translate(888.54 1372.8) scale(0.92 1)" font-size="31.5" text-anchor="middle" fill="#000" font-weight="bold" font-family='"Liberation Sans", Arial, sans-serif' font-style="normal" >2</text>
<text transform="translate(959.48 1372.8) scale(0.92 1)" font-size="31.5" text-anchor="middle" fill="#000" font-weight="bold" font-family='"Liberation Sans", Arial, sans-serif' font-style="normal" >4</text>
<text transform="translate(1030.42 1372.8) scale(0.92 1)" font-size="31.5" text-anchor="middle" fill="#000" font-weight="bold" font-family='"Liberation Sans", Arial, sans-serif' font-style="normal" >6</text>
<text transform="translate(1101.36 1372.8) scale(0.92 1)" font-size="31.5" text-anchor="middle" fill="#000" font-weight="bold" font-family='"Liberation Sans", Arial, sans-serif' font-style="normal" >8</text>
<text transform="translate(1172.3 1372.8) scale(0.92 1)" font-size="31.5" text-anchor="middle" fill="#000" font-weight="bold" font-family='"Liberation Sans", Arial, sans-serif' font-style="normal" >10</text>
<text transform="translate(1243.24 1372.8) scale(0.92 1)" font-size="31.5" text-anchor="middle" fill="#000" font-weight="bold" font-family='"Liberation Sans", Arial, sans-serif' font-style="normal" >12</text>
<text transform="translate(1030.3 1419) scale(0.962 1)" font-size="30" text-anchor="middle" font-weight="bold" font-family='"Liberation Sans", Arial, sans-serif'><tspan font-style="italic">X</tspan>-coordinates of the ball (μm)</text>
<text transform="translate(687.2 1148) rotate(-90)" font-size="30" text-anchor="middle" font-weight="bold" font-family='"Liberation Sans", Arial, sans-serif'>F<tspan font-size="21" dy="8">DEP_Z</tspan><tspan dy="-8"> (pN)</tspan></text>
<line x1="1422.5" y1="1250.65" x2="1841.8" y2="1250.65" stroke="#bdbdbd" stroke-width="1.25" stroke-dasharray="6.5 6.1"/>
<line x1="1422.5" y1="1165.1" x2="1841.8" y2="1165.1" stroke="#bdbdbd" stroke-width="1.25" stroke-dasharray="6.5 6.1"/>
<line x1="1422.5" y1="1079.55" x2="1841.8" y2="1079.55" stroke="#bdbdbd" stroke-width="1.25" stroke-dasharray="6.5 6.1"/>
<line x1="1422.5" y1="994" x2="1841.8" y2="994" stroke="#bdbdbd" stroke-width="1.25" stroke-dasharray="6.5 6.1"/>
<rect x="1431.8" y="1103.85" width="33.6" height="232.35" fill="#6fd38a" stroke="#4a4a4a" stroke-width="0.9"/>
<rect x="1465.4" y="1159.19" width="33.6" height="177.01" fill="#58a3df" stroke="#6a6a6a" stroke-width="0.7"/>
<rect x="1515" y="1072.71" width="33.6" height="263.49" fill="#6fd38a" stroke="#4a4a4a" stroke-width="0.9"/>
<rect x="1548.6" y="1129.3" width="33.6" height="206.9" fill="#58a3df" stroke="#6a6a6a" stroke-width="0.7"/>
<rect x="1598.8" y="1045.33" width="33.6" height="290.87" fill="#6fd38a" stroke="#4a4a4a" stroke-width="0.9"/>
<rect x="1632.4" y="1087.56" width="33.6" height="248.64" fill="#58a3df" stroke="#6a6a6a" stroke-width="0.7"/>
<rect x="1682.9" y="1018.13" width="33.6" height="318.07" fill="#6fd38a" stroke="#4a4a4a" stroke-width="0.9"/>
<rect x="1716.5" y="1046.12" width="33.6" height="290.08" fill="#58a3df" stroke="#6a6a6a" stroke-width="0.7"/>
<rect x="1766.4" y="987.33" width="33.6" height="348.87" fill="#6fd38a" stroke="#4a4a4a" stroke-width="0.9"/>
<rect x="1800" y="993.14" width="33.6" height="343.06" fill="#58a3df" stroke="#6a6a6a" stroke-width="0.7"/>
<line x1="1422.5" y1="951.4" x2="1841.8" y2="951.4" stroke="#222" stroke-width="1.6"/>
<line x1="1422.5" y1="1336.2" x2="1841.8" y2="1336.2" stroke="#222" stroke-width="1.6"/>
<line x1="1422.5" y1="951.4" x2="1422.5" y2="1336.2" stroke="#5a9e72" stroke-width="1.6"/>
<line x1="1841.8" y1="951.4" x2="1841.8" y2="1336.2" stroke="#4a7db0" stroke-width="1.6"/>
<line x1="1465.4" y1="1336.2" x2="1465.4" y2="1330.2" stroke="#222" stroke-width="1.5"/>
<line x1="1465.4" y1="951.4" x2="1465.4" y2="957.4" stroke="#222" stroke-width="1.5"/>
<line x1="1548.6" y1="1336.2" x2="1548.6" y2="1330.2" stroke="#222" stroke-width="1.5"/>
<line x1="1548.6" y1="951.4" x2="1548.6" y2="957.4" stroke="#222" stroke-width="1.5"/>
<line x1="1632.4" y1="1336.2" x2="1632.4" y2="1330.2" stroke="#222" stroke-width="1.5"/>
<line x1="1632.4" y1="951.4" x2="1632.4" y2="957.4" stroke="#222" stroke-width="1.5"/>
<line x1="1716.5" y1="1336.2" x2="1716.5" y2="1330.2" stroke="#222" stroke-width="1.5"/>
<line x1="1716.5" y1="951.4" x2="1716.5" y2="957.4" stroke="#222" stroke-width="1.5"/>
<line x1="1800" y1="1336.2" x2="1800" y2="1330.2" stroke="#222" stroke-width="1.5"/>
<line x1="1800" y1="951.4" x2="1800" y2="957.4" stroke="#222" stroke-width="1.5"/>
<line x1="1507.2" y1="1336.2" x2="1507.2" y2="1332.7" stroke="#222" stroke-width="1.5"/>
<line x1="1507.2" y1="951.4" x2="1507.2" y2="954.9" stroke="#222" stroke-width="1.5"/>
<line x1="1590.4" y1="1336.2" x2="1590.4" y2="1332.7" stroke="#222" stroke-width="1.5"/>
<line x1="1590.4" y1="951.4" x2="1590.4" y2="954.9" stroke="#222" stroke-width="1.5"/>
<line x1="1674.2" y1="1336.2" x2="1674.2" y2="1332.7" stroke="#222" stroke-width="1.5"/>
<line x1="1674.2" y1="951.4" x2="1674.2" y2="954.9" stroke="#222" stroke-width="1.5"/>
<line x1="1758.3" y1="1336.2" x2="1758.3" y2="1332.7" stroke="#222" stroke-width="1.5"/>
<line x1="1758.3" y1="951.4" x2="1758.3" y2="954.9" stroke="#222" stroke-width="1.5"/>
<line x1="1422.5" y1="1250.65" x2="1428.9" y2="1250.65" stroke="#5a9e72" stroke-width="1.6"/>
<line x1="1422.5" y1="1165.1" x2="1428.9" y2="1165.1" stroke="#5a9e72" stroke-width="1.6"/>
<line x1="1422.5" y1="1079.55" x2="1428.9" y2="1079.55" stroke="#5a9e72" stroke-width="1.6"/>
<line x1="1422.5" y1="994" x2="1428.9" y2="994" stroke="#5a9e72" stroke-width="1.6"/>
<line x1="1422.5" y1="1293.42" x2="1425.9" y2="1293.42" stroke="#5a9e72" stroke-width="1.6"/>
<line x1="1422.5" y1="1207.88" x2="1425.9" y2="1207.88" stroke="#5a9e72" stroke-width="1.6"/>
<line x1="1422.5" y1="1122.33" x2="1425.9" y2="1122.33" stroke="#5a9e72" stroke-width="1.6"/>
<line x1="1422.5" y1="1036.78" x2="1425.9" y2="1036.78" stroke="#5a9e72" stroke-width="1.6"/>
<line x1="1841.8" y1="1306.6" x2="1837.9" y2="1306.6" stroke="#4a7db0" stroke-width="1.6"/>
<line x1="1841.8" y1="1277" x2="1835.4" y2="1277" stroke="#4a7db0" stroke-width="1.6"/>
<line x1="1841.8" y1="1247.4" x2="1837.9" y2="1247.4" stroke="#4a7db0" stroke-width="1.6"/>
<line x1="1841.8" y1="1217.8" x2="1835.4" y2="1217.8" stroke="#4a7db0" stroke-width="1.6"/>
<line x1="1841.8" y1="1188.2" x2="1837.9" y2="1188.2" stroke="#4a7db0" stroke-width="1.6"/>
<line x1="1841.8" y1="1158.6" x2="1835.4" y2="1158.6" stroke="#4a7db0" stroke-width="1.6"/>
<line x1="1841.8" y1="1129" x2="1837.9" y2="1129" stroke="#4a7db0" stroke-width="1.6"/>
<line x1="1841.8" y1="1099.4" x2="1835.4" y2="1099.4" stroke="#4a7db0" stroke-width="1.6"/>
<line x1="1841.8" y1="1069.8" x2="1837.9" y2="1069.8" stroke="#4a7db0" stroke-width="1.6"/>
<line x1="1841.8" y1="1040.2" x2="1835.4" y2="1040.2" stroke="#4a7db0" stroke-width="1.6"/>
<line x1="1841.8" y1="1010.6" x2="1837.9" y2="1010.6" stroke="#4a7db0" stroke-width="1.6"/>
<line x1="1841.8" y1="981" x2="1835.4" y2="981" stroke="#4a7db0" stroke-width="1.6"/>
<rect x="1452.3" y="965.3" width="110.2" height="87.2" fill="#fff" stroke="#bdbdbd" stroke-width="1.2"/>
<rect x="1456.9" y="969.8" width="74.7" height="37.5" fill="#6fd38a" stroke="#555" stroke-width="1"/>
<rect x="1456.9" y="1011.9" width="74.7" height="36.9" fill="#58a3df" stroke="#777" stroke-width="0.8"/>
<text transform="translate(1550 999.5)" font-size="28" text-anchor="middle" fill="#237a50" font-weight="bold" font-family='"Liberation Serif", "Times New Roman", serif' font-style="normal" >α</text>
<text transform="translate(1550 1037.5)" font-size="28" text-anchor="middle" fill="#17497a" font-weight="bold" font-family='"Liberation Serif", "Times New Roman", serif' font-style="normal" >β</text>
<text transform="translate(1409.3 1347.2) scale(0.92 1)" font-size="31.5" text-anchor="end" fill="#237a50" font-weight="bold" font-family='"Liberation Sans", Arial, sans-serif' font-style="normal" >0.0</text>
<text transform="translate(1409.3 1261.65) scale(0.92 1)" font-size="31.5" text-anchor="end" fill="#237a50" font-weight="bold" font-family='"Liberation Sans", Arial, sans-serif' font-style="normal" >0.5</text>
<text transform="translate(1409.3 1176.1) scale(0.92 1)" font-size="31.5" text-anchor="end" fill="#237a50" font-weight="bold" font-family='"Liberation Sans", Arial, sans-serif' font-style="normal" >1.0</text>
<text transform="translate(1409.3 1090.55) scale(0.92 1)" font-size="31.5" text-anchor="end" fill="#237a50" font-weight="bold" font-family='"Liberation Sans", Arial, sans-serif' font-style="normal" >1.5</text>
<text transform="translate(1409.3 1005) scale(0.92 1)" font-size="31.5" text-anchor="end" fill="#237a50" font-weight="bold" font-family='"Liberation Sans", Arial, sans-serif' font-style="normal" >2.0</text>
<text transform="translate(1856.5 1347.2) scale(0.92 1)" font-size="31.5" text-anchor="start" fill="#17497a" font-weight="bold" font-family='"Liberation Sans", Arial, sans-serif' font-style="normal" >0.0</text>
<text transform="translate(1856.5 1288) scale(0.92 1)" font-size="31.5" text-anchor="start" fill="#17497a" font-weight="bold" font-family='"Liberation Sans", Arial, sans-serif' font-style="normal" >0.2</text>
<text transform="translate(1856.5 1228.8) scale(0.92 1)" font-size="31.5" text-anchor="start" fill="#17497a" font-weight="bold" font-family='"Liberation Sans", Arial, sans-serif' font-style="normal" >0.4</text>
<text transform="translate(1856.5 1169.6) scale(0.92 1)" font-size="31.5" text-anchor="start" fill="#17497a" font-weight="bold" font-family='"Liberation Sans", Arial, sans-serif' font-style="normal" >0.6</text>
<text transform="translate(1856.5 1110.4) scale(0.92 1)" font-size="31.5" text-anchor="start" fill="#17497a" font-weight="bold" font-family='"Liberation Sans", Arial, sans-serif' font-style="normal" >0.8</text>
<text transform="translate(1856.5 1051.2) scale(0.92 1)" font-size="31.5" text-anchor="start" fill="#17497a" font-weight="bold" font-family='"Liberation Sans", Arial, sans-serif' font-style="normal" >1.0</text>
<text transform="translate(1856.5 992) scale(0.92 1)" font-size="31.5" text-anchor="start" fill="#17497a" font-weight="bold" font-family='"Liberation Sans", Arial, sans-serif' font-style="normal" >1.2</text>
<text transform="translate(1465.4 1372.8) scale(0.92 1)" font-size="31.5" text-anchor="middle" fill="#000" font-weight="bold" font-family='"Liberation Sans", Arial, sans-serif' font-style="normal" >16</text>
<text transform="translate(1548.6 1372.8) scale(0.92 1)" font-size="31.5" text-anchor="middle" fill="#000" font-weight="bold" font-family='"Liberation Sans", Arial, sans-serif' font-style="normal" >18</text>
<text transform="translate(1632.4 1372.8) scale(0.92 1)" font-size="31.5" text-anchor="middle" fill="#000" font-weight="bold" font-family='"Liberation Sans", Arial, sans-serif' font-style="normal" >20</text>
<text transform="translate(1716.5 1372.8) scale(0.92 1)" font-size="31.5" text-anchor="middle" fill="#000" font-weight="bold" font-family='"Liberation Sans", Arial, sans-serif' font-style="normal" >22</text>
<text transform="translate(1800 1372.8) scale(0.92 1)" font-size="31.5" text-anchor="middle" fill="#000" font-weight="bold" font-family='"Liberation Sans", Arial, sans-serif' font-style="normal" >24</text>
<text transform="translate(1632 1419) scale(0.95 1)" font-size="30" text-anchor="middle" font-weight="bold" font-family='"Liberation Sans", Arial, sans-serif'><tspan font-family='"Liberation Serif", "Times New Roman", serif' font-style="italic">Φ</tspan> (μm)</text>
<text transform="translate(1346 1144.5) rotate(-90)" font-size="30" text-anchor="middle" fill="#237a50" font-weight="bold" font-family='"Liberation Serif", "Times New Roman", serif' font-style="italic" >α</text>
<text transform="translate(1941.5 1144.5) rotate(-90)" font-size="30" text-anchor="middle" fill="#17497a" font-weight="bold" font-family='"Liberation Serif", "Times New Roman", serif' font-style="italic" >β</text>
<text transform="translate(-0.6 23.3) scale(0.93 1)" font-size="42" text-anchor="start" fill="#000" font-weight="bold" font-family='"Liberation Sans", Arial, sans-serif' font-style="normal" >a</text>
<text transform="translate(-1.6 418.6)" font-size="42" text-anchor="start" fill="#000" font-weight="bold" font-family='"Liberation Sans", Arial, sans-serif' font-style="normal" >b</text>
<text transform="translate(661.3 419)" font-size="42" text-anchor="start" fill="#000" font-weight="bold" font-family='"Liberation Sans", Arial, sans-serif' font-style="normal" >c</text>
<text transform="translate(1558.2 418.3)" font-size="42" text-anchor="start" fill="#000" font-weight="bold" font-family='"Liberation Sans", Arial, sans-serif' font-style="normal" >d</text>
<text transform="translate(-1.5 959.7)" font-size="42" text-anchor="start" fill="#000" font-weight="bold" font-family='"Liberation Sans", Arial, sans-serif' font-style="normal" >e</text>
<text transform="translate(661.8 959.9)" font-size="42" text-anchor="start" fill="#000" font-weight="bold" font-family='"Liberation Sans", Arial, sans-serif' font-style="normal" >f</text>
<text transform="translate(1318.8 960)" font-size="42" text-anchor="start" fill="#000" font-weight="bold" font-family='"Liberation Sans", Arial, sans-serif' font-style="normal" >g</text>
</svg>
</body></html>
